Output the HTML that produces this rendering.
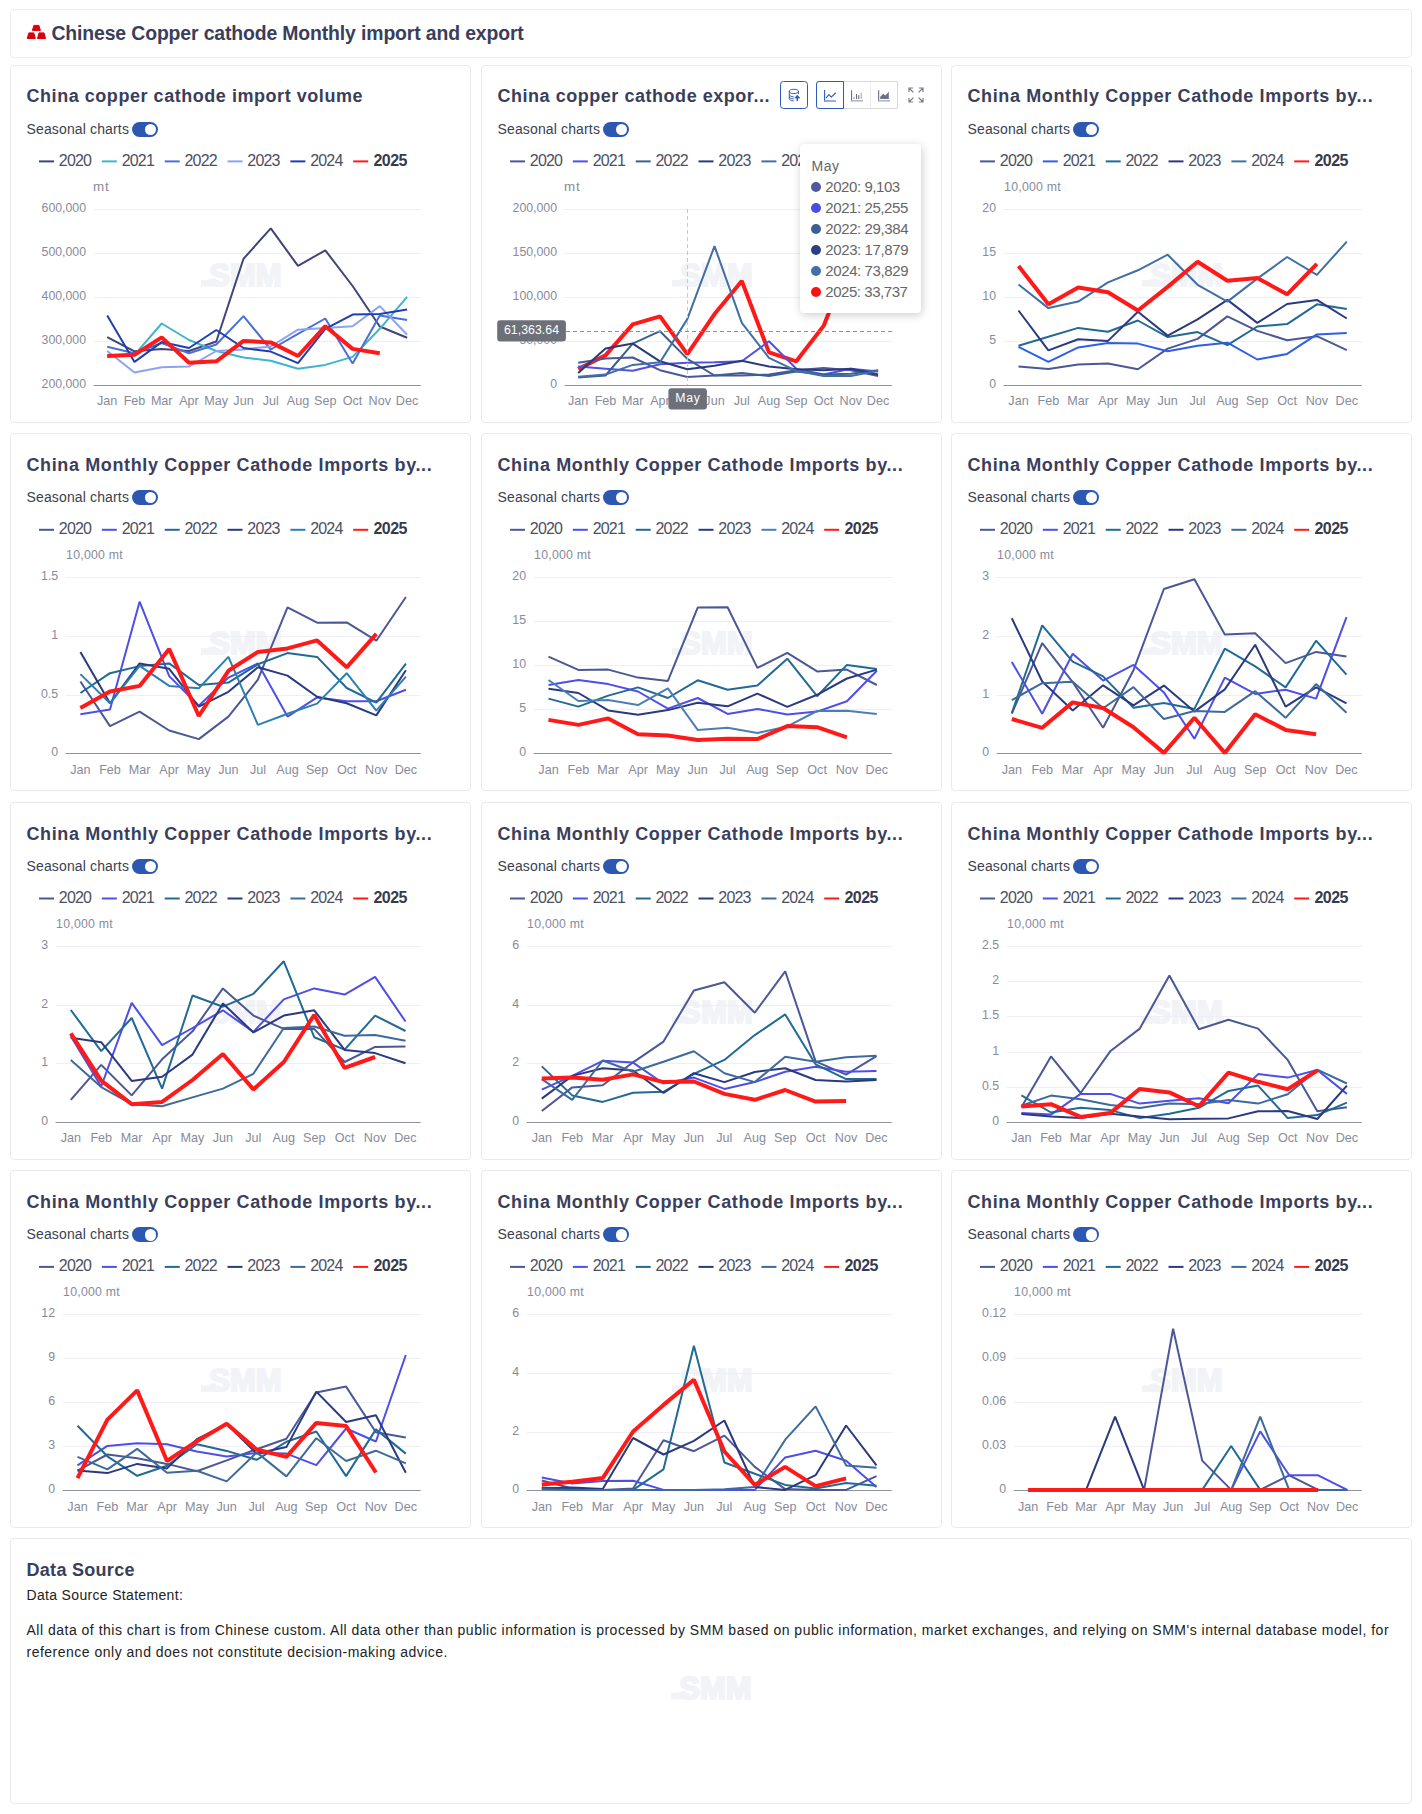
<!DOCTYPE html><html lang="en"><head><meta charset="utf-8"><title>Chinese Copper cathode Monthly import and export</title><style>
html,body{margin:0;padding:0;background:#fff}
body{width:1422px;height:1814px;position:relative;overflow:hidden;font-family:"Liberation Sans",sans-serif}
.card{position:absolute;box-sizing:border-box;border:1px solid #e9e9f6;border-radius:4px;background:#fff}
.t{position:absolute;white-space:pre;margin:0}
svg{position:absolute;left:0;top:0;overflow:visible}
.sw{position:absolute;width:26px;height:15px;border-radius:8px;background:#2d58b1}
.sw i{position:absolute;right:2px;top:1.8px;width:11.4px;height:11.4px;border-radius:50%;background:#fff}
</style></head><body>
<div class="card" style="left:10px;top:9px;width:1402px;height:49px;border-color:#ececf7"></div>
<svg width="1422" height="60" viewBox="0 0 1422 60"><g fill="#d9000f" stroke="#d9000f" stroke-width="1" stroke-linejoin="round"><path d="M33.9 25.4h5.0l1.5 5.0h-8.0z"/><path d="M28.8 32.9h5.0l1.5 5.6h-8.0z"/><path d="M39.0 32.9h5.0l1.5 5.6h-8.0z"/></g></svg>
<div class="t" style="left:51.50px;top:23.44px;font-size:19.4px;line-height:21.67px;color:#3a3e5b;font-weight:bold;letter-spacing:-0.129px;">Chinese Copper cathode Monthly import and export</div>
<div class="card" style="left:10px;top:65px;width:461px;height:358px"></div>
<div class="t" style="left:26.50px;top:86.46px;font-size:18px;line-height:20.11px;color:#3a3e5b;font-weight:bold;letter-spacing:0.544px;">China copper cathode import volume</div>
<div class="t" style="left:26.50px;top:121.63px;font-size:14px;line-height:15.64px;color:#3b3f50;letter-spacing:0.142px;">Seasonal charts</div>
<div class="sw" style="left:132.2px;top:122px"><i></i></div>
<div class="t" style="left:58.80px;top:151.82px;font-size:16px;line-height:17.87px;color:#4b5062;letter-spacing:-0.798px;">2020</div>
<div class="t" style="left:121.64px;top:151.82px;font-size:16px;line-height:17.87px;color:#4b5062;letter-spacing:-0.798px;">2021</div>
<div class="t" style="left:184.48px;top:151.82px;font-size:16px;line-height:17.87px;color:#4b5062;letter-spacing:-0.798px;">2022</div>
<div class="t" style="left:247.32px;top:151.82px;font-size:16px;line-height:17.87px;color:#4b5062;letter-spacing:-0.798px;">2023</div>
<div class="t" style="left:310.16px;top:151.82px;font-size:16px;line-height:17.87px;color:#4b5062;letter-spacing:-0.798px;">2024</div>
<div class="t" style="left:373.50px;top:151.82px;font-size:16px;line-height:17.87px;color:#353b4d;font-weight:bold;letter-spacing:-0.531px;">2025</div>
<div class="t" style="left:41.55px;top:377.97px;font-size:12.3px;line-height:13.74px;color:#878b9a;">200,000</div>
<div class="t" style="left:41.55px;top:333.97px;font-size:12.3px;line-height:13.74px;color:#878b9a;">300,000</div>
<div class="t" style="left:41.55px;top:289.97px;font-size:12.3px;line-height:13.74px;color:#878b9a;">400,000</div>
<div class="t" style="left:41.55px;top:245.97px;font-size:12.3px;line-height:13.74px;color:#878b9a;">500,000</div>
<div class="t" style="left:41.55px;top:201.97px;font-size:12.3px;line-height:13.74px;color:#878b9a;">600,000</div>
<div class="t" style="left:93.10px;top:179.87px;font-size:13.4px;line-height:14.97px;color:#878b9a;letter-spacing:0.725px;">mt</div>
<div class="t" style="left:97.07px;top:394.20px;font-size:12.6px;line-height:14.07px;color:#878b9a;">Jan</div>
<div class="t" style="left:123.64px;top:394.20px;font-size:12.6px;line-height:14.07px;color:#878b9a;">Feb</div>
<div class="t" style="left:150.89px;top:394.20px;font-size:12.6px;line-height:14.07px;color:#878b9a;">Mar</div>
<div class="t" style="left:179.20px;top:394.20px;font-size:12.6px;line-height:14.07px;color:#878b9a;">Apr</div>
<div class="t" style="left:204.36px;top:394.20px;font-size:12.6px;line-height:14.07px;color:#878b9a;">May</div>
<div class="t" style="left:233.36px;top:394.20px;font-size:12.6px;line-height:14.07px;color:#878b9a;">Jun</div>
<div class="t" style="left:262.72px;top:394.20px;font-size:12.6px;line-height:14.07px;color:#878b9a;">Jul</div>
<div class="t" style="left:286.83px;top:394.20px;font-size:12.6px;line-height:14.07px;color:#878b9a;">Aug</div>
<div class="t" style="left:314.08px;top:394.20px;font-size:12.6px;line-height:14.07px;color:#878b9a;">Sep</div>
<div class="t" style="left:342.76px;top:394.20px;font-size:12.6px;line-height:14.07px;color:#878b9a;">Oct</div>
<div class="t" style="left:368.61px;top:394.20px;font-size:12.6px;line-height:14.07px;color:#878b9a;">Nov</div>
<div class="t" style="left:395.87px;top:394.20px;font-size:12.6px;line-height:14.07px;color:#878b9a;">Dec</div>
<div class="t" style="left:209.30px;top:258.84px;font-size:31px;line-height:34.63px;color:#f2f3f6;font-weight:bold;-webkit-text-stroke:2.2px #f2f3f6;">SMM</div>
<div class="card" style="left:481px;top:65px;width:461px;height:358px"></div>
<div class="t" style="left:497.50px;top:86.46px;font-size:18px;line-height:20.11px;color:#3a3e5b;font-weight:bold;letter-spacing:0.533px;">China copper cathode expor...</div>
<div class="t" style="left:497.50px;top:121.63px;font-size:14px;line-height:15.64px;color:#3b3f50;letter-spacing:0.142px;">Seasonal charts</div>
<div class="sw" style="left:603.2px;top:122px"><i></i></div>
<div class="t" style="left:529.80px;top:151.82px;font-size:16px;line-height:17.87px;color:#4b5062;letter-spacing:-0.798px;">2020</div>
<div class="t" style="left:592.64px;top:151.82px;font-size:16px;line-height:17.87px;color:#4b5062;letter-spacing:-0.798px;">2021</div>
<div class="t" style="left:655.48px;top:151.82px;font-size:16px;line-height:17.87px;color:#4b5062;letter-spacing:-0.798px;">2022</div>
<div class="t" style="left:718.32px;top:151.82px;font-size:16px;line-height:17.87px;color:#4b5062;letter-spacing:-0.798px;">2023</div>
<div class="t" style="left:781.16px;top:151.82px;font-size:16px;line-height:17.87px;color:#4b5062;letter-spacing:-0.798px;">2024</div>
<div class="t" style="left:550.16px;top:377.97px;font-size:12.3px;line-height:13.74px;color:#878b9a;">0</div>
<div class="t" style="left:519.38px;top:333.97px;font-size:12.3px;line-height:13.74px;color:#878b9a;">50,000</div>
<div class="t" style="left:512.55px;top:289.97px;font-size:12.3px;line-height:13.74px;color:#878b9a;">100,000</div>
<div class="t" style="left:512.55px;top:245.97px;font-size:12.3px;line-height:13.74px;color:#878b9a;">150,000</div>
<div class="t" style="left:512.55px;top:201.97px;font-size:12.3px;line-height:13.74px;color:#878b9a;">200,000</div>
<div class="t" style="left:564.10px;top:179.87px;font-size:13.4px;line-height:14.97px;color:#878b9a;letter-spacing:0.725px;">mt</div>
<div class="t" style="left:568.07px;top:394.20px;font-size:12.6px;line-height:14.07px;color:#878b9a;">Jan</div>
<div class="t" style="left:594.64px;top:394.20px;font-size:12.6px;line-height:14.07px;color:#878b9a;">Feb</div>
<div class="t" style="left:621.89px;top:394.20px;font-size:12.6px;line-height:14.07px;color:#878b9a;">Mar</div>
<div class="t" style="left:650.20px;top:394.20px;font-size:12.6px;line-height:14.07px;color:#878b9a;">Apr</div>
<div class="t" style="left:675.36px;top:394.20px;font-size:12.6px;line-height:14.07px;color:#878b9a;">May</div>
<div class="t" style="left:704.36px;top:394.20px;font-size:12.6px;line-height:14.07px;color:#878b9a;">Jun</div>
<div class="t" style="left:733.72px;top:394.20px;font-size:12.6px;line-height:14.07px;color:#878b9a;">Jul</div>
<div class="t" style="left:757.83px;top:394.20px;font-size:12.6px;line-height:14.07px;color:#878b9a;">Aug</div>
<div class="t" style="left:785.08px;top:394.20px;font-size:12.6px;line-height:14.07px;color:#878b9a;">Sep</div>
<div class="t" style="left:813.76px;top:394.20px;font-size:12.6px;line-height:14.07px;color:#878b9a;">Oct</div>
<div class="t" style="left:839.61px;top:394.20px;font-size:12.6px;line-height:14.07px;color:#878b9a;">Nov</div>
<div class="t" style="left:866.87px;top:394.20px;font-size:12.6px;line-height:14.07px;color:#878b9a;">Dec</div>
<div class="t" style="left:680.30px;top:258.84px;font-size:31px;line-height:34.63px;color:#f2f3f6;font-weight:bold;-webkit-text-stroke:2.2px #f2f3f6;">SMM</div>
<div class="card" style="left:951px;top:65px;width:461px;height:358px"></div>
<div class="t" style="left:967.50px;top:86.46px;font-size:18px;line-height:20.11px;color:#3a3e5b;font-weight:bold;letter-spacing:0.623px;">China Monthly Copper Cathode Imports by...</div>
<div class="t" style="left:967.50px;top:121.63px;font-size:14px;line-height:15.64px;color:#3b3f50;letter-spacing:0.142px;">Seasonal charts</div>
<div class="sw" style="left:1073.2px;top:122px"><i></i></div>
<div class="t" style="left:999.80px;top:151.82px;font-size:16px;line-height:17.87px;color:#4b5062;letter-spacing:-0.798px;">2020</div>
<div class="t" style="left:1062.64px;top:151.82px;font-size:16px;line-height:17.87px;color:#4b5062;letter-spacing:-0.798px;">2021</div>
<div class="t" style="left:1125.48px;top:151.82px;font-size:16px;line-height:17.87px;color:#4b5062;letter-spacing:-0.798px;">2022</div>
<div class="t" style="left:1188.32px;top:151.82px;font-size:16px;line-height:17.87px;color:#4b5062;letter-spacing:-0.798px;">2023</div>
<div class="t" style="left:1251.16px;top:151.82px;font-size:16px;line-height:17.87px;color:#4b5062;letter-spacing:-0.798px;">2024</div>
<div class="t" style="left:1314.50px;top:151.82px;font-size:16px;line-height:17.87px;color:#353b4d;font-weight:bold;letter-spacing:-0.531px;">2025</div>
<div class="t" style="left:989.16px;top:377.97px;font-size:12.3px;line-height:13.74px;color:#878b9a;">0</div>
<div class="t" style="left:989.16px;top:333.97px;font-size:12.3px;line-height:13.74px;color:#878b9a;">5</div>
<div class="t" style="left:982.31px;top:289.97px;font-size:12.3px;line-height:13.74px;color:#878b9a;">10</div>
<div class="t" style="left:982.31px;top:245.97px;font-size:12.3px;line-height:13.74px;color:#878b9a;">15</div>
<div class="t" style="left:982.31px;top:201.97px;font-size:12.3px;line-height:13.74px;color:#878b9a;">20</div>
<div class="t" style="left:1004.10px;top:180.87px;font-size:12.3px;line-height:13.74px;color:#878b9a;letter-spacing:0.237px;">10,000 mt</div>
<div class="t" style="left:1008.36px;top:394.20px;font-size:12.6px;line-height:14.07px;color:#878b9a;">Jan</div>
<div class="t" style="left:1037.51px;top:394.20px;font-size:12.6px;line-height:14.07px;color:#878b9a;">Feb</div>
<div class="t" style="left:1067.35px;top:394.20px;font-size:12.6px;line-height:14.07px;color:#878b9a;">Mar</div>
<div class="t" style="left:1098.24px;top:394.20px;font-size:12.6px;line-height:14.07px;color:#878b9a;">Apr</div>
<div class="t" style="left:1125.99px;top:394.20px;font-size:12.6px;line-height:14.07px;color:#878b9a;">May</div>
<div class="t" style="left:1157.57px;top:394.20px;font-size:12.6px;line-height:14.07px;color:#878b9a;">Jun</div>
<div class="t" style="left:1189.52px;top:394.20px;font-size:12.6px;line-height:14.07px;color:#878b9a;">Jul</div>
<div class="t" style="left:1216.20px;top:394.20px;font-size:12.6px;line-height:14.07px;color:#878b9a;">Aug</div>
<div class="t" style="left:1246.04px;top:394.20px;font-size:12.6px;line-height:14.07px;color:#878b9a;">Sep</div>
<div class="t" style="left:1277.30px;top:394.20px;font-size:12.6px;line-height:14.07px;color:#878b9a;">Oct</div>
<div class="t" style="left:1305.73px;top:394.20px;font-size:12.6px;line-height:14.07px;color:#878b9a;">Nov</div>
<div class="t" style="left:1335.58px;top:394.20px;font-size:12.6px;line-height:14.07px;color:#878b9a;">Dec</div>
<div class="t" style="left:1150.30px;top:258.84px;font-size:31px;line-height:34.63px;color:#f2f3f6;font-weight:bold;-webkit-text-stroke:2.2px #f2f3f6;">SMM</div>
<div class="card" style="left:10px;top:433px;width:461px;height:358px"></div>
<div class="t" style="left:26.50px;top:454.76px;font-size:18px;line-height:20.11px;color:#3a3e5b;font-weight:bold;letter-spacing:0.623px;">China Monthly Copper Cathode Imports by...</div>
<div class="t" style="left:26.50px;top:489.93px;font-size:14px;line-height:15.64px;color:#3b3f50;letter-spacing:0.142px;">Seasonal charts</div>
<div class="sw" style="left:132.2px;top:490.3px"><i></i></div>
<div class="t" style="left:58.80px;top:520.12px;font-size:16px;line-height:17.87px;color:#4b5062;letter-spacing:-0.798px;">2020</div>
<div class="t" style="left:121.64px;top:520.12px;font-size:16px;line-height:17.87px;color:#4b5062;letter-spacing:-0.798px;">2021</div>
<div class="t" style="left:184.48px;top:520.12px;font-size:16px;line-height:17.87px;color:#4b5062;letter-spacing:-0.798px;">2022</div>
<div class="t" style="left:247.32px;top:520.12px;font-size:16px;line-height:17.87px;color:#4b5062;letter-spacing:-0.798px;">2023</div>
<div class="t" style="left:310.16px;top:520.12px;font-size:16px;line-height:17.87px;color:#4b5062;letter-spacing:-0.798px;">2024</div>
<div class="t" style="left:373.50px;top:520.12px;font-size:16px;line-height:17.87px;color:#353b4d;font-weight:bold;letter-spacing:-0.531px;">2025</div>
<div class="t" style="left:51.16px;top:746.27px;font-size:12.3px;line-height:13.74px;color:#878b9a;">0</div>
<div class="t" style="left:40.89px;top:687.60px;font-size:12.3px;line-height:13.74px;color:#878b9a;">0.5</div>
<div class="t" style="left:51.16px;top:628.94px;font-size:12.3px;line-height:13.74px;color:#878b9a;">1</div>
<div class="t" style="left:40.89px;top:570.27px;font-size:12.3px;line-height:13.74px;color:#878b9a;">1.5</div>
<div class="t" style="left:66.10px;top:549.17px;font-size:12.3px;line-height:13.74px;color:#878b9a;letter-spacing:0.237px;">10,000 mt</div>
<div class="t" style="left:70.24px;top:762.50px;font-size:12.6px;line-height:14.07px;color:#878b9a;">Jan</div>
<div class="t" style="left:99.14px;top:762.50px;font-size:12.6px;line-height:14.07px;color:#878b9a;">Feb</div>
<div class="t" style="left:128.73px;top:762.50px;font-size:12.6px;line-height:14.07px;color:#878b9a;">Mar</div>
<div class="t" style="left:159.37px;top:762.50px;font-size:12.6px;line-height:14.07px;color:#878b9a;">Apr</div>
<div class="t" style="left:186.86px;top:762.50px;font-size:12.6px;line-height:14.07px;color:#878b9a;">May</div>
<div class="t" style="left:218.20px;top:762.50px;font-size:12.6px;line-height:14.07px;color:#878b9a;">Jun</div>
<div class="t" style="left:249.89px;top:762.50px;font-size:12.6px;line-height:14.07px;color:#878b9a;">Jul</div>
<div class="t" style="left:276.33px;top:762.50px;font-size:12.6px;line-height:14.07px;color:#878b9a;">Aug</div>
<div class="t" style="left:305.92px;top:762.50px;font-size:12.6px;line-height:14.07px;color:#878b9a;">Sep</div>
<div class="t" style="left:336.92px;top:762.50px;font-size:12.6px;line-height:14.07px;color:#878b9a;">Oct</div>
<div class="t" style="left:365.11px;top:762.50px;font-size:12.6px;line-height:14.07px;color:#878b9a;">Nov</div>
<div class="t" style="left:394.70px;top:762.50px;font-size:12.6px;line-height:14.07px;color:#878b9a;">Dec</div>
<div class="t" style="left:209.30px;top:627.15px;font-size:31px;line-height:34.63px;color:#f2f3f6;font-weight:bold;-webkit-text-stroke:2.2px #f2f3f6;">SMM</div>
<div class="card" style="left:481px;top:433px;width:461px;height:358px"></div>
<div class="t" style="left:497.50px;top:454.76px;font-size:18px;line-height:20.11px;color:#3a3e5b;font-weight:bold;letter-spacing:0.623px;">China Monthly Copper Cathode Imports by...</div>
<div class="t" style="left:497.50px;top:489.93px;font-size:14px;line-height:15.64px;color:#3b3f50;letter-spacing:0.142px;">Seasonal charts</div>
<div class="sw" style="left:603.2px;top:490.3px"><i></i></div>
<div class="t" style="left:529.80px;top:520.12px;font-size:16px;line-height:17.87px;color:#4b5062;letter-spacing:-0.798px;">2020</div>
<div class="t" style="left:592.64px;top:520.12px;font-size:16px;line-height:17.87px;color:#4b5062;letter-spacing:-0.798px;">2021</div>
<div class="t" style="left:655.48px;top:520.12px;font-size:16px;line-height:17.87px;color:#4b5062;letter-spacing:-0.798px;">2022</div>
<div class="t" style="left:718.32px;top:520.12px;font-size:16px;line-height:17.87px;color:#4b5062;letter-spacing:-0.798px;">2023</div>
<div class="t" style="left:781.16px;top:520.12px;font-size:16px;line-height:17.87px;color:#4b5062;letter-spacing:-0.798px;">2024</div>
<div class="t" style="left:844.50px;top:520.12px;font-size:16px;line-height:17.87px;color:#353b4d;font-weight:bold;letter-spacing:-0.531px;">2025</div>
<div class="t" style="left:519.16px;top:746.27px;font-size:12.3px;line-height:13.74px;color:#878b9a;">0</div>
<div class="t" style="left:519.16px;top:702.27px;font-size:12.3px;line-height:13.74px;color:#878b9a;">5</div>
<div class="t" style="left:512.31px;top:658.27px;font-size:12.3px;line-height:13.74px;color:#878b9a;">10</div>
<div class="t" style="left:512.31px;top:614.27px;font-size:12.3px;line-height:13.74px;color:#878b9a;">15</div>
<div class="t" style="left:512.31px;top:570.27px;font-size:12.3px;line-height:13.74px;color:#878b9a;">20</div>
<div class="t" style="left:534.10px;top:549.17px;font-size:12.3px;line-height:13.74px;color:#878b9a;letter-spacing:0.237px;">10,000 mt</div>
<div class="t" style="left:538.36px;top:762.50px;font-size:12.6px;line-height:14.07px;color:#878b9a;">Jan</div>
<div class="t" style="left:567.51px;top:762.50px;font-size:12.6px;line-height:14.07px;color:#878b9a;">Feb</div>
<div class="t" style="left:597.35px;top:762.50px;font-size:12.6px;line-height:14.07px;color:#878b9a;">Mar</div>
<div class="t" style="left:628.24px;top:762.50px;font-size:12.6px;line-height:14.07px;color:#878b9a;">Apr</div>
<div class="t" style="left:655.99px;top:762.50px;font-size:12.6px;line-height:14.07px;color:#878b9a;">May</div>
<div class="t" style="left:687.57px;top:762.50px;font-size:12.6px;line-height:14.07px;color:#878b9a;">Jun</div>
<div class="t" style="left:719.52px;top:762.50px;font-size:12.6px;line-height:14.07px;color:#878b9a;">Jul</div>
<div class="t" style="left:746.20px;top:762.50px;font-size:12.6px;line-height:14.07px;color:#878b9a;">Aug</div>
<div class="t" style="left:776.04px;top:762.50px;font-size:12.6px;line-height:14.07px;color:#878b9a;">Sep</div>
<div class="t" style="left:807.30px;top:762.50px;font-size:12.6px;line-height:14.07px;color:#878b9a;">Oct</div>
<div class="t" style="left:835.73px;top:762.50px;font-size:12.6px;line-height:14.07px;color:#878b9a;">Nov</div>
<div class="t" style="left:865.58px;top:762.50px;font-size:12.6px;line-height:14.07px;color:#878b9a;">Dec</div>
<div class="t" style="left:680.30px;top:627.15px;font-size:31px;line-height:34.63px;color:#f2f3f6;font-weight:bold;-webkit-text-stroke:2.2px #f2f3f6;">SMM</div>
<div class="card" style="left:951px;top:433px;width:461px;height:358px"></div>
<div class="t" style="left:967.50px;top:454.76px;font-size:18px;line-height:20.11px;color:#3a3e5b;font-weight:bold;letter-spacing:0.623px;">China Monthly Copper Cathode Imports by...</div>
<div class="t" style="left:967.50px;top:489.93px;font-size:14px;line-height:15.64px;color:#3b3f50;letter-spacing:0.142px;">Seasonal charts</div>
<div class="sw" style="left:1073.2px;top:490.3px"><i></i></div>
<div class="t" style="left:999.80px;top:520.12px;font-size:16px;line-height:17.87px;color:#4b5062;letter-spacing:-0.798px;">2020</div>
<div class="t" style="left:1062.64px;top:520.12px;font-size:16px;line-height:17.87px;color:#4b5062;letter-spacing:-0.798px;">2021</div>
<div class="t" style="left:1125.48px;top:520.12px;font-size:16px;line-height:17.87px;color:#4b5062;letter-spacing:-0.798px;">2022</div>
<div class="t" style="left:1188.32px;top:520.12px;font-size:16px;line-height:17.87px;color:#4b5062;letter-spacing:-0.798px;">2023</div>
<div class="t" style="left:1251.16px;top:520.12px;font-size:16px;line-height:17.87px;color:#4b5062;letter-spacing:-0.798px;">2024</div>
<div class="t" style="left:1314.50px;top:520.12px;font-size:16px;line-height:17.87px;color:#353b4d;font-weight:bold;letter-spacing:-0.531px;">2025</div>
<div class="t" style="left:982.16px;top:746.27px;font-size:12.3px;line-height:13.74px;color:#878b9a;">0</div>
<div class="t" style="left:982.16px;top:687.60px;font-size:12.3px;line-height:13.74px;color:#878b9a;">1</div>
<div class="t" style="left:982.16px;top:628.94px;font-size:12.3px;line-height:13.74px;color:#878b9a;">2</div>
<div class="t" style="left:982.16px;top:570.27px;font-size:12.3px;line-height:13.74px;color:#878b9a;">3</div>
<div class="t" style="left:997.10px;top:549.17px;font-size:12.3px;line-height:13.74px;color:#878b9a;letter-spacing:0.237px;">10,000 mt</div>
<div class="t" style="left:1001.66px;top:762.50px;font-size:12.6px;line-height:14.07px;color:#878b9a;">Jan</div>
<div class="t" style="left:1031.39px;top:762.50px;font-size:12.6px;line-height:14.07px;color:#878b9a;">Feb</div>
<div class="t" style="left:1061.81px;top:762.50px;font-size:12.6px;line-height:14.07px;color:#878b9a;">Mar</div>
<div class="t" style="left:1093.28px;top:762.50px;font-size:12.6px;line-height:14.07px;color:#878b9a;">Apr</div>
<div class="t" style="left:1121.61px;top:762.50px;font-size:12.6px;line-height:14.07px;color:#878b9a;">May</div>
<div class="t" style="left:1153.78px;top:762.50px;font-size:12.6px;line-height:14.07px;color:#878b9a;">Jun</div>
<div class="t" style="left:1186.31px;top:762.50px;font-size:12.6px;line-height:14.07px;color:#878b9a;">Jul</div>
<div class="t" style="left:1213.58px;top:762.50px;font-size:12.6px;line-height:14.07px;color:#878b9a;">Aug</div>
<div class="t" style="left:1244.00px;top:762.50px;font-size:12.6px;line-height:14.07px;color:#878b9a;">Sep</div>
<div class="t" style="left:1275.84px;top:762.50px;font-size:12.6px;line-height:14.07px;color:#878b9a;">Oct</div>
<div class="t" style="left:1304.86px;top:762.50px;font-size:12.6px;line-height:14.07px;color:#878b9a;">Nov</div>
<div class="t" style="left:1335.28px;top:762.50px;font-size:12.6px;line-height:14.07px;color:#878b9a;">Dec</div>
<div class="t" style="left:1150.30px;top:627.15px;font-size:31px;line-height:34.63px;color:#f2f3f6;font-weight:bold;-webkit-text-stroke:2.2px #f2f3f6;">SMM</div>
<div class="card" style="left:10px;top:802px;width:461px;height:358px"></div>
<div class="t" style="left:26.50px;top:823.56px;font-size:18px;line-height:20.11px;color:#3a3e5b;font-weight:bold;letter-spacing:0.623px;">China Monthly Copper Cathode Imports by...</div>
<div class="t" style="left:26.50px;top:858.73px;font-size:14px;line-height:15.64px;color:#3b3f50;letter-spacing:0.142px;">Seasonal charts</div>
<div class="sw" style="left:132.2px;top:859.1px"><i></i></div>
<div class="t" style="left:58.80px;top:888.92px;font-size:16px;line-height:17.87px;color:#4b5062;letter-spacing:-0.798px;">2020</div>
<div class="t" style="left:121.64px;top:888.92px;font-size:16px;line-height:17.87px;color:#4b5062;letter-spacing:-0.798px;">2021</div>
<div class="t" style="left:184.48px;top:888.92px;font-size:16px;line-height:17.87px;color:#4b5062;letter-spacing:-0.798px;">2022</div>
<div class="t" style="left:247.32px;top:888.92px;font-size:16px;line-height:17.87px;color:#4b5062;letter-spacing:-0.798px;">2023</div>
<div class="t" style="left:310.16px;top:888.92px;font-size:16px;line-height:17.87px;color:#4b5062;letter-spacing:-0.798px;">2024</div>
<div class="t" style="left:373.50px;top:888.92px;font-size:16px;line-height:17.87px;color:#353b4d;font-weight:bold;letter-spacing:-0.531px;">2025</div>
<div class="t" style="left:41.16px;top:1115.07px;font-size:12.3px;line-height:13.74px;color:#878b9a;">0</div>
<div class="t" style="left:41.16px;top:1056.40px;font-size:12.3px;line-height:13.74px;color:#878b9a;">1</div>
<div class="t" style="left:41.16px;top:997.74px;font-size:12.3px;line-height:13.74px;color:#878b9a;">2</div>
<div class="t" style="left:41.16px;top:939.07px;font-size:12.3px;line-height:13.74px;color:#878b9a;">3</div>
<div class="t" style="left:56.10px;top:917.97px;font-size:12.3px;line-height:13.74px;color:#878b9a;letter-spacing:0.237px;">10,000 mt</div>
<div class="t" style="left:60.66px;top:1131.30px;font-size:12.6px;line-height:14.07px;color:#878b9a;">Jan</div>
<div class="t" style="left:90.39px;top:1131.30px;font-size:12.6px;line-height:14.07px;color:#878b9a;">Feb</div>
<div class="t" style="left:120.81px;top:1131.30px;font-size:12.6px;line-height:14.07px;color:#878b9a;">Mar</div>
<div class="t" style="left:152.28px;top:1131.30px;font-size:12.6px;line-height:14.07px;color:#878b9a;">Apr</div>
<div class="t" style="left:180.61px;top:1131.30px;font-size:12.6px;line-height:14.07px;color:#878b9a;">May</div>
<div class="t" style="left:212.78px;top:1131.30px;font-size:12.6px;line-height:14.07px;color:#878b9a;">Jun</div>
<div class="t" style="left:245.31px;top:1131.30px;font-size:12.6px;line-height:14.07px;color:#878b9a;">Jul</div>
<div class="t" style="left:272.58px;top:1131.30px;font-size:12.6px;line-height:14.07px;color:#878b9a;">Aug</div>
<div class="t" style="left:303.00px;top:1131.30px;font-size:12.6px;line-height:14.07px;color:#878b9a;">Sep</div>
<div class="t" style="left:334.84px;top:1131.30px;font-size:12.6px;line-height:14.07px;color:#878b9a;">Oct</div>
<div class="t" style="left:363.86px;top:1131.30px;font-size:12.6px;line-height:14.07px;color:#878b9a;">Nov</div>
<div class="t" style="left:394.28px;top:1131.30px;font-size:12.6px;line-height:14.07px;color:#878b9a;">Dec</div>
<div class="t" style="left:209.30px;top:995.95px;font-size:31px;line-height:34.63px;color:#f2f3f6;font-weight:bold;-webkit-text-stroke:2.2px #f2f3f6;">SMM</div>
<div class="card" style="left:481px;top:802px;width:461px;height:358px"></div>
<div class="t" style="left:497.50px;top:823.56px;font-size:18px;line-height:20.11px;color:#3a3e5b;font-weight:bold;letter-spacing:0.623px;">China Monthly Copper Cathode Imports by...</div>
<div class="t" style="left:497.50px;top:858.73px;font-size:14px;line-height:15.64px;color:#3b3f50;letter-spacing:0.142px;">Seasonal charts</div>
<div class="sw" style="left:603.2px;top:859.1px"><i></i></div>
<div class="t" style="left:529.80px;top:888.92px;font-size:16px;line-height:17.87px;color:#4b5062;letter-spacing:-0.798px;">2020</div>
<div class="t" style="left:592.64px;top:888.92px;font-size:16px;line-height:17.87px;color:#4b5062;letter-spacing:-0.798px;">2021</div>
<div class="t" style="left:655.48px;top:888.92px;font-size:16px;line-height:17.87px;color:#4b5062;letter-spacing:-0.798px;">2022</div>
<div class="t" style="left:718.32px;top:888.92px;font-size:16px;line-height:17.87px;color:#4b5062;letter-spacing:-0.798px;">2023</div>
<div class="t" style="left:781.16px;top:888.92px;font-size:16px;line-height:17.87px;color:#4b5062;letter-spacing:-0.798px;">2024</div>
<div class="t" style="left:844.50px;top:888.92px;font-size:16px;line-height:17.87px;color:#353b4d;font-weight:bold;letter-spacing:-0.531px;">2025</div>
<div class="t" style="left:512.16px;top:1115.07px;font-size:12.3px;line-height:13.74px;color:#878b9a;">0</div>
<div class="t" style="left:512.16px;top:1056.40px;font-size:12.3px;line-height:13.74px;color:#878b9a;">2</div>
<div class="t" style="left:512.16px;top:997.74px;font-size:12.3px;line-height:13.74px;color:#878b9a;">4</div>
<div class="t" style="left:512.16px;top:939.07px;font-size:12.3px;line-height:13.74px;color:#878b9a;">6</div>
<div class="t" style="left:527.10px;top:917.97px;font-size:12.3px;line-height:13.74px;color:#878b9a;letter-spacing:0.237px;">10,000 mt</div>
<div class="t" style="left:531.66px;top:1131.30px;font-size:12.6px;line-height:14.07px;color:#878b9a;">Jan</div>
<div class="t" style="left:561.39px;top:1131.30px;font-size:12.6px;line-height:14.07px;color:#878b9a;">Feb</div>
<div class="t" style="left:591.81px;top:1131.30px;font-size:12.6px;line-height:14.07px;color:#878b9a;">Mar</div>
<div class="t" style="left:623.28px;top:1131.30px;font-size:12.6px;line-height:14.07px;color:#878b9a;">Apr</div>
<div class="t" style="left:651.61px;top:1131.30px;font-size:12.6px;line-height:14.07px;color:#878b9a;">May</div>
<div class="t" style="left:683.78px;top:1131.30px;font-size:12.6px;line-height:14.07px;color:#878b9a;">Jun</div>
<div class="t" style="left:716.31px;top:1131.30px;font-size:12.6px;line-height:14.07px;color:#878b9a;">Jul</div>
<div class="t" style="left:743.58px;top:1131.30px;font-size:12.6px;line-height:14.07px;color:#878b9a;">Aug</div>
<div class="t" style="left:774.00px;top:1131.30px;font-size:12.6px;line-height:14.07px;color:#878b9a;">Sep</div>
<div class="t" style="left:805.84px;top:1131.30px;font-size:12.6px;line-height:14.07px;color:#878b9a;">Oct</div>
<div class="t" style="left:834.86px;top:1131.30px;font-size:12.6px;line-height:14.07px;color:#878b9a;">Nov</div>
<div class="t" style="left:865.28px;top:1131.30px;font-size:12.6px;line-height:14.07px;color:#878b9a;">Dec</div>
<div class="t" style="left:680.30px;top:995.95px;font-size:31px;line-height:34.63px;color:#f2f3f6;font-weight:bold;-webkit-text-stroke:2.2px #f2f3f6;">SMM</div>
<div class="card" style="left:951px;top:802px;width:461px;height:358px"></div>
<div class="t" style="left:967.50px;top:823.56px;font-size:18px;line-height:20.11px;color:#3a3e5b;font-weight:bold;letter-spacing:0.623px;">China Monthly Copper Cathode Imports by...</div>
<div class="t" style="left:967.50px;top:858.73px;font-size:14px;line-height:15.64px;color:#3b3f50;letter-spacing:0.142px;">Seasonal charts</div>
<div class="sw" style="left:1073.2px;top:859.1px"><i></i></div>
<div class="t" style="left:999.80px;top:888.92px;font-size:16px;line-height:17.87px;color:#4b5062;letter-spacing:-0.798px;">2020</div>
<div class="t" style="left:1062.64px;top:888.92px;font-size:16px;line-height:17.87px;color:#4b5062;letter-spacing:-0.798px;">2021</div>
<div class="t" style="left:1125.48px;top:888.92px;font-size:16px;line-height:17.87px;color:#4b5062;letter-spacing:-0.798px;">2022</div>
<div class="t" style="left:1188.32px;top:888.92px;font-size:16px;line-height:17.87px;color:#4b5062;letter-spacing:-0.798px;">2023</div>
<div class="t" style="left:1251.16px;top:888.92px;font-size:16px;line-height:17.87px;color:#4b5062;letter-spacing:-0.798px;">2024</div>
<div class="t" style="left:1314.50px;top:888.92px;font-size:16px;line-height:17.87px;color:#353b4d;font-weight:bold;letter-spacing:-0.531px;">2025</div>
<div class="t" style="left:992.16px;top:1115.07px;font-size:12.3px;line-height:13.74px;color:#878b9a;">0</div>
<div class="t" style="left:981.89px;top:1079.87px;font-size:12.3px;line-height:13.74px;color:#878b9a;">0.5</div>
<div class="t" style="left:992.16px;top:1044.67px;font-size:12.3px;line-height:13.74px;color:#878b9a;">1</div>
<div class="t" style="left:981.89px;top:1009.47px;font-size:12.3px;line-height:13.74px;color:#878b9a;">1.5</div>
<div class="t" style="left:992.16px;top:974.27px;font-size:12.3px;line-height:13.74px;color:#878b9a;">2</div>
<div class="t" style="left:981.89px;top:939.07px;font-size:12.3px;line-height:13.74px;color:#878b9a;">2.5</div>
<div class="t" style="left:1007.10px;top:917.97px;font-size:12.3px;line-height:13.74px;color:#878b9a;letter-spacing:0.237px;">10,000 mt</div>
<div class="t" style="left:1011.24px;top:1131.30px;font-size:12.6px;line-height:14.07px;color:#878b9a;">Jan</div>
<div class="t" style="left:1040.14px;top:1131.30px;font-size:12.6px;line-height:14.07px;color:#878b9a;">Feb</div>
<div class="t" style="left:1069.73px;top:1131.30px;font-size:12.6px;line-height:14.07px;color:#878b9a;">Mar</div>
<div class="t" style="left:1100.37px;top:1131.30px;font-size:12.6px;line-height:14.07px;color:#878b9a;">Apr</div>
<div class="t" style="left:1127.86px;top:1131.30px;font-size:12.6px;line-height:14.07px;color:#878b9a;">May</div>
<div class="t" style="left:1159.20px;top:1131.30px;font-size:12.6px;line-height:14.07px;color:#878b9a;">Jun</div>
<div class="t" style="left:1190.89px;top:1131.30px;font-size:12.6px;line-height:14.07px;color:#878b9a;">Jul</div>
<div class="t" style="left:1217.33px;top:1131.30px;font-size:12.6px;line-height:14.07px;color:#878b9a;">Aug</div>
<div class="t" style="left:1246.92px;top:1131.30px;font-size:12.6px;line-height:14.07px;color:#878b9a;">Sep</div>
<div class="t" style="left:1277.92px;top:1131.30px;font-size:12.6px;line-height:14.07px;color:#878b9a;">Oct</div>
<div class="t" style="left:1306.11px;top:1131.30px;font-size:12.6px;line-height:14.07px;color:#878b9a;">Nov</div>
<div class="t" style="left:1335.70px;top:1131.30px;font-size:12.6px;line-height:14.07px;color:#878b9a;">Dec</div>
<div class="t" style="left:1150.30px;top:995.95px;font-size:31px;line-height:34.63px;color:#f2f3f6;font-weight:bold;-webkit-text-stroke:2.2px #f2f3f6;">SMM</div>
<div class="card" style="left:10px;top:1170px;width:461px;height:358px"></div>
<div class="t" style="left:26.50px;top:1191.86px;font-size:18px;line-height:20.11px;color:#3a3e5b;font-weight:bold;letter-spacing:0.623px;">China Monthly Copper Cathode Imports by...</div>
<div class="t" style="left:26.50px;top:1227.03px;font-size:14px;line-height:15.64px;color:#3b3f50;letter-spacing:0.142px;">Seasonal charts</div>
<div class="sw" style="left:132.2px;top:1227.4px"><i></i></div>
<div class="t" style="left:58.80px;top:1257.22px;font-size:16px;line-height:17.87px;color:#4b5062;letter-spacing:-0.798px;">2020</div>
<div class="t" style="left:121.64px;top:1257.22px;font-size:16px;line-height:17.87px;color:#4b5062;letter-spacing:-0.798px;">2021</div>
<div class="t" style="left:184.48px;top:1257.22px;font-size:16px;line-height:17.87px;color:#4b5062;letter-spacing:-0.798px;">2022</div>
<div class="t" style="left:247.32px;top:1257.22px;font-size:16px;line-height:17.87px;color:#4b5062;letter-spacing:-0.798px;">2023</div>
<div class="t" style="left:310.16px;top:1257.22px;font-size:16px;line-height:17.87px;color:#4b5062;letter-spacing:-0.798px;">2024</div>
<div class="t" style="left:373.50px;top:1257.22px;font-size:16px;line-height:17.87px;color:#353b4d;font-weight:bold;letter-spacing:-0.531px;">2025</div>
<div class="t" style="left:48.16px;top:1483.37px;font-size:12.3px;line-height:13.74px;color:#878b9a;">0</div>
<div class="t" style="left:48.16px;top:1439.37px;font-size:12.3px;line-height:13.74px;color:#878b9a;">3</div>
<div class="t" style="left:48.16px;top:1395.37px;font-size:12.3px;line-height:13.74px;color:#878b9a;">6</div>
<div class="t" style="left:48.16px;top:1351.37px;font-size:12.3px;line-height:13.74px;color:#878b9a;">9</div>
<div class="t" style="left:41.31px;top:1307.37px;font-size:12.3px;line-height:13.74px;color:#878b9a;">12</div>
<div class="t" style="left:63.10px;top:1286.27px;font-size:12.3px;line-height:13.74px;color:#878b9a;letter-spacing:0.237px;">10,000 mt</div>
<div class="t" style="left:67.36px;top:1499.60px;font-size:12.6px;line-height:14.07px;color:#878b9a;">Jan</div>
<div class="t" style="left:96.51px;top:1499.60px;font-size:12.6px;line-height:14.07px;color:#878b9a;">Feb</div>
<div class="t" style="left:126.35px;top:1499.60px;font-size:12.6px;line-height:14.07px;color:#878b9a;">Mar</div>
<div class="t" style="left:157.24px;top:1499.60px;font-size:12.6px;line-height:14.07px;color:#878b9a;">Apr</div>
<div class="t" style="left:184.99px;top:1499.60px;font-size:12.6px;line-height:14.07px;color:#878b9a;">May</div>
<div class="t" style="left:216.57px;top:1499.60px;font-size:12.6px;line-height:14.07px;color:#878b9a;">Jun</div>
<div class="t" style="left:248.52px;top:1499.60px;font-size:12.6px;line-height:14.07px;color:#878b9a;">Jul</div>
<div class="t" style="left:275.20px;top:1499.60px;font-size:12.6px;line-height:14.07px;color:#878b9a;">Aug</div>
<div class="t" style="left:305.04px;top:1499.60px;font-size:12.6px;line-height:14.07px;color:#878b9a;">Sep</div>
<div class="t" style="left:336.30px;top:1499.60px;font-size:12.6px;line-height:14.07px;color:#878b9a;">Oct</div>
<div class="t" style="left:364.73px;top:1499.60px;font-size:12.6px;line-height:14.07px;color:#878b9a;">Nov</div>
<div class="t" style="left:394.58px;top:1499.60px;font-size:12.6px;line-height:14.07px;color:#878b9a;">Dec</div>
<div class="t" style="left:209.30px;top:1364.25px;font-size:31px;line-height:34.63px;color:#f2f3f6;font-weight:bold;-webkit-text-stroke:2.2px #f2f3f6;">SMM</div>
<div class="card" style="left:481px;top:1170px;width:461px;height:358px"></div>
<div class="t" style="left:497.50px;top:1191.86px;font-size:18px;line-height:20.11px;color:#3a3e5b;font-weight:bold;letter-spacing:0.623px;">China Monthly Copper Cathode Imports by...</div>
<div class="t" style="left:497.50px;top:1227.03px;font-size:14px;line-height:15.64px;color:#3b3f50;letter-spacing:0.142px;">Seasonal charts</div>
<div class="sw" style="left:603.2px;top:1227.4px"><i></i></div>
<div class="t" style="left:529.80px;top:1257.22px;font-size:16px;line-height:17.87px;color:#4b5062;letter-spacing:-0.798px;">2020</div>
<div class="t" style="left:592.64px;top:1257.22px;font-size:16px;line-height:17.87px;color:#4b5062;letter-spacing:-0.798px;">2021</div>
<div class="t" style="left:655.48px;top:1257.22px;font-size:16px;line-height:17.87px;color:#4b5062;letter-spacing:-0.798px;">2022</div>
<div class="t" style="left:718.32px;top:1257.22px;font-size:16px;line-height:17.87px;color:#4b5062;letter-spacing:-0.798px;">2023</div>
<div class="t" style="left:781.16px;top:1257.22px;font-size:16px;line-height:17.87px;color:#4b5062;letter-spacing:-0.798px;">2024</div>
<div class="t" style="left:844.50px;top:1257.22px;font-size:16px;line-height:17.87px;color:#353b4d;font-weight:bold;letter-spacing:-0.531px;">2025</div>
<div class="t" style="left:512.16px;top:1483.37px;font-size:12.3px;line-height:13.74px;color:#878b9a;">0</div>
<div class="t" style="left:512.16px;top:1424.70px;font-size:12.3px;line-height:13.74px;color:#878b9a;">2</div>
<div class="t" style="left:512.16px;top:1366.04px;font-size:12.3px;line-height:13.74px;color:#878b9a;">4</div>
<div class="t" style="left:512.16px;top:1307.37px;font-size:12.3px;line-height:13.74px;color:#878b9a;">6</div>
<div class="t" style="left:527.10px;top:1286.27px;font-size:12.3px;line-height:13.74px;color:#878b9a;letter-spacing:0.237px;">10,000 mt</div>
<div class="t" style="left:531.66px;top:1499.60px;font-size:12.6px;line-height:14.07px;color:#878b9a;">Jan</div>
<div class="t" style="left:561.39px;top:1499.60px;font-size:12.6px;line-height:14.07px;color:#878b9a;">Feb</div>
<div class="t" style="left:591.81px;top:1499.60px;font-size:12.6px;line-height:14.07px;color:#878b9a;">Mar</div>
<div class="t" style="left:623.28px;top:1499.60px;font-size:12.6px;line-height:14.07px;color:#878b9a;">Apr</div>
<div class="t" style="left:651.61px;top:1499.60px;font-size:12.6px;line-height:14.07px;color:#878b9a;">May</div>
<div class="t" style="left:683.78px;top:1499.60px;font-size:12.6px;line-height:14.07px;color:#878b9a;">Jun</div>
<div class="t" style="left:716.31px;top:1499.60px;font-size:12.6px;line-height:14.07px;color:#878b9a;">Jul</div>
<div class="t" style="left:743.58px;top:1499.60px;font-size:12.6px;line-height:14.07px;color:#878b9a;">Aug</div>
<div class="t" style="left:774.00px;top:1499.60px;font-size:12.6px;line-height:14.07px;color:#878b9a;">Sep</div>
<div class="t" style="left:805.84px;top:1499.60px;font-size:12.6px;line-height:14.07px;color:#878b9a;">Oct</div>
<div class="t" style="left:834.86px;top:1499.60px;font-size:12.6px;line-height:14.07px;color:#878b9a;">Nov</div>
<div class="t" style="left:865.28px;top:1499.60px;font-size:12.6px;line-height:14.07px;color:#878b9a;">Dec</div>
<div class="t" style="left:680.30px;top:1364.25px;font-size:31px;line-height:34.63px;color:#f2f3f6;font-weight:bold;-webkit-text-stroke:2.2px #f2f3f6;">SMM</div>
<div class="card" style="left:951px;top:1170px;width:461px;height:358px"></div>
<div class="t" style="left:967.50px;top:1191.86px;font-size:18px;line-height:20.11px;color:#3a3e5b;font-weight:bold;letter-spacing:0.623px;">China Monthly Copper Cathode Imports by...</div>
<div class="t" style="left:967.50px;top:1227.03px;font-size:14px;line-height:15.64px;color:#3b3f50;letter-spacing:0.142px;">Seasonal charts</div>
<div class="sw" style="left:1073.2px;top:1227.4px"><i></i></div>
<div class="t" style="left:999.80px;top:1257.22px;font-size:16px;line-height:17.87px;color:#4b5062;letter-spacing:-0.798px;">2020</div>
<div class="t" style="left:1062.64px;top:1257.22px;font-size:16px;line-height:17.87px;color:#4b5062;letter-spacing:-0.798px;">2021</div>
<div class="t" style="left:1125.48px;top:1257.22px;font-size:16px;line-height:17.87px;color:#4b5062;letter-spacing:-0.798px;">2022</div>
<div class="t" style="left:1188.32px;top:1257.22px;font-size:16px;line-height:17.87px;color:#4b5062;letter-spacing:-0.798px;">2023</div>
<div class="t" style="left:1251.16px;top:1257.22px;font-size:16px;line-height:17.87px;color:#4b5062;letter-spacing:-0.798px;">2024</div>
<div class="t" style="left:1314.50px;top:1257.22px;font-size:16px;line-height:17.87px;color:#353b4d;font-weight:bold;letter-spacing:-0.531px;">2025</div>
<div class="t" style="left:999.16px;top:1483.37px;font-size:12.3px;line-height:13.74px;color:#878b9a;">0</div>
<div class="t" style="left:982.06px;top:1439.37px;font-size:12.3px;line-height:13.74px;color:#878b9a;">0.03</div>
<div class="t" style="left:982.06px;top:1395.37px;font-size:12.3px;line-height:13.74px;color:#878b9a;">0.06</div>
<div class="t" style="left:982.06px;top:1351.37px;font-size:12.3px;line-height:13.74px;color:#878b9a;">0.09</div>
<div class="t" style="left:982.06px;top:1307.37px;font-size:12.3px;line-height:13.74px;color:#878b9a;">0.12</div>
<div class="t" style="left:1014.10px;top:1286.27px;font-size:12.3px;line-height:13.74px;color:#878b9a;letter-spacing:0.237px;">10,000 mt</div>
<div class="t" style="left:1017.95px;top:1499.60px;font-size:12.6px;line-height:14.07px;color:#878b9a;">Jan</div>
<div class="t" style="left:1046.26px;top:1499.60px;font-size:12.6px;line-height:14.07px;color:#878b9a;">Feb</div>
<div class="t" style="left:1075.27px;top:1499.60px;font-size:12.6px;line-height:14.07px;color:#878b9a;">Mar</div>
<div class="t" style="left:1105.32px;top:1499.60px;font-size:12.6px;line-height:14.07px;color:#878b9a;">Apr</div>
<div class="t" style="left:1132.24px;top:1499.60px;font-size:12.6px;line-height:14.07px;color:#878b9a;">May</div>
<div class="t" style="left:1162.99px;top:1499.60px;font-size:12.6px;line-height:14.07px;color:#878b9a;">Jun</div>
<div class="t" style="left:1194.10px;top:1499.60px;font-size:12.6px;line-height:14.07px;color:#878b9a;">Jul</div>
<div class="t" style="left:1219.95px;top:1499.60px;font-size:12.6px;line-height:14.07px;color:#878b9a;">Aug</div>
<div class="t" style="left:1248.96px;top:1499.60px;font-size:12.6px;line-height:14.07px;color:#878b9a;">Sep</div>
<div class="t" style="left:1279.38px;top:1499.60px;font-size:12.6px;line-height:14.07px;color:#878b9a;">Oct</div>
<div class="t" style="left:1306.98px;top:1499.60px;font-size:12.6px;line-height:14.07px;color:#878b9a;">Nov</div>
<div class="t" style="left:1335.99px;top:1499.60px;font-size:12.6px;line-height:14.07px;color:#878b9a;">Dec</div>
<div class="t" style="left:1150.30px;top:1364.25px;font-size:31px;line-height:34.63px;color:#f2f3f6;font-weight:bold;-webkit-text-stroke:2.2px #f2f3f6;">SMM</div>
<div class="card" style="left:10px;top:1538px;width:1402px;height:266px"></div>
<div class="t" style="left:26.50px;top:1559.81px;font-size:18px;line-height:20.11px;color:#3a3e5b;font-weight:bold;letter-spacing:0.295px;">Data Source</div>
<div class="t" style="left:26.50px;top:1587.53px;font-size:14px;line-height:15.64px;color:#222;letter-spacing:0.328px;">Data Source Statement:</div>
<div class="t" style="left:26.50px;top:1623.33px;font-size:14px;line-height:15.64px;color:#222;letter-spacing:0.499px;">All data of this chart is from Chinese custom. All data other than public information is processed by SMM based on public information, market exchanges, and relying on SMM's internal database model, for</div>
<div class="t" style="left:26.50px;top:1645.33px;font-size:14px;line-height:15.64px;color:#222;letter-spacing:0.497px;">reference only and does not constitute decision-making advice.</div>
<div class="t" style="left:679.30px;top:1671.74px;font-size:31px;line-height:34.63px;color:#f2f3f6;font-weight:bold;-webkit-text-stroke:2.2px #f2f3f6;">SMM</div>
<svg width="1422" height="1814" viewBox="0 0 1422 1814"><line x1="39.0" y1="161.4" x2="54.0" y2="161.4" stroke="#3f4579" stroke-width="2"/>
<line x1="101.8" y1="161.4" x2="116.8" y2="161.4" stroke="#3fb5cc" stroke-width="2"/>
<line x1="164.7" y1="161.4" x2="179.7" y2="161.4" stroke="#4a6fdc" stroke-width="2"/>
<line x1="227.5" y1="161.4" x2="242.5" y2="161.4" stroke="#8aa4f0" stroke-width="2"/>
<line x1="290.4" y1="161.4" x2="305.4" y2="161.4" stroke="#1f3fb0" stroke-width="2"/>
<line x1="353.2" y1="161.4" x2="368.2" y2="161.4" stroke="#ff1a1a" stroke-width="2"/>
<line x1="93.6" y1="341.5" x2="420.7" y2="341.5" stroke="#eeeef8" stroke-width="1"/>
<line x1="93.6" y1="297.5" x2="420.7" y2="297.5" stroke="#eeeef8" stroke-width="1"/>
<line x1="93.6" y1="253.5" x2="420.7" y2="253.5" stroke="#eeeef8" stroke-width="1"/>
<line x1="93.6" y1="209.5" x2="420.7" y2="209.5" stroke="#eeeef8" stroke-width="1"/>
<line x1="93.6" y1="385.5" x2="420.7" y2="385.5" stroke="#9092a1" stroke-width="1.1"/>
<rect x="201" y="279.9" width="18" height="6.6" fill="#f2f3f6"/>
<line x1="510.0" y1="161.4" x2="525.0" y2="161.4" stroke="#4c5796" stroke-width="2"/>
<line x1="572.8" y1="161.4" x2="587.8" y2="161.4" stroke="#5050e8" stroke-width="2"/>
<line x1="635.7" y1="161.4" x2="650.7" y2="161.4" stroke="#3a6090" stroke-width="2"/>
<line x1="698.5" y1="161.4" x2="713.5" y2="161.4" stroke="#2a3a7a" stroke-width="2"/>
<line x1="761.4" y1="161.4" x2="776.4" y2="161.4" stroke="#3f6fa5" stroke-width="2"/>
<line x1="564.6" y1="341.5" x2="891.7" y2="341.5" stroke="#eeeef8" stroke-width="1"/>
<line x1="564.6" y1="297.5" x2="891.7" y2="297.5" stroke="#eeeef8" stroke-width="1"/>
<line x1="564.6" y1="253.5" x2="891.7" y2="253.5" stroke="#eeeef8" stroke-width="1"/>
<line x1="564.6" y1="209.5" x2="891.7" y2="209.5" stroke="#eeeef8" stroke-width="1"/>
<line x1="564.6" y1="385.5" x2="891.7" y2="385.5" stroke="#9092a1" stroke-width="1.1"/>
<rect x="672" y="279.9" width="18" height="6.6" fill="#f2f3f6"/>
<line x1="980.0" y1="161.4" x2="995.0" y2="161.4" stroke="#4c5796" stroke-width="2"/>
<line x1="1042.8" y1="161.4" x2="1057.8" y2="161.4" stroke="#2f5fe8" stroke-width="2"/>
<line x1="1105.7" y1="161.4" x2="1120.7" y2="161.4" stroke="#226a94" stroke-width="2"/>
<line x1="1168.5" y1="161.4" x2="1183.5" y2="161.4" stroke="#2b3a7e" stroke-width="2"/>
<line x1="1231.4" y1="161.4" x2="1246.4" y2="161.4" stroke="#3f6fa5" stroke-width="2"/>
<line x1="1294.2" y1="161.4" x2="1309.2" y2="161.4" stroke="#ff1a1a" stroke-width="2"/>
<line x1="1003.6" y1="341.5" x2="1361.7" y2="341.5" stroke="#eeeef8" stroke-width="1"/>
<line x1="1003.6" y1="297.5" x2="1361.7" y2="297.5" stroke="#eeeef8" stroke-width="1"/>
<line x1="1003.6" y1="253.5" x2="1361.7" y2="253.5" stroke="#eeeef8" stroke-width="1"/>
<line x1="1003.6" y1="209.5" x2="1361.7" y2="209.5" stroke="#eeeef8" stroke-width="1"/>
<line x1="1003.6" y1="385.5" x2="1361.7" y2="385.5" stroke="#9092a1" stroke-width="1.1"/>
<rect x="1142" y="279.9" width="18" height="6.6" fill="#f2f3f6"/>
<line x1="39.0" y1="529.8" x2="54.0" y2="529.8" stroke="#4c5796" stroke-width="2"/>
<line x1="101.8" y1="529.8" x2="116.8" y2="529.8" stroke="#4e4ee8" stroke-width="2"/>
<line x1="164.7" y1="529.8" x2="179.7" y2="529.8" stroke="#226a94" stroke-width="2"/>
<line x1="227.5" y1="529.8" x2="242.5" y2="529.8" stroke="#2b3a7e" stroke-width="2"/>
<line x1="290.4" y1="529.8" x2="305.4" y2="529.8" stroke="#2a80b0" stroke-width="2"/>
<line x1="353.2" y1="529.8" x2="368.2" y2="529.8" stroke="#ff1a1a" stroke-width="2"/>
<line x1="65.6" y1="695.5" x2="420.7" y2="695.5" stroke="#eeeef8" stroke-width="1"/>
<line x1="65.6" y1="636.5" x2="420.7" y2="636.5" stroke="#eeeef8" stroke-width="1"/>
<line x1="65.6" y1="577.5" x2="420.7" y2="577.5" stroke="#eeeef8" stroke-width="1"/>
<line x1="65.6" y1="753.5" x2="420.7" y2="753.5" stroke="#9092a1" stroke-width="1.1"/>
<rect x="201" y="648.2" width="18" height="6.6" fill="#f2f3f6"/>
<line x1="510.0" y1="529.8" x2="525.0" y2="529.8" stroke="#4c5796" stroke-width="2"/>
<line x1="572.8" y1="529.8" x2="587.8" y2="529.8" stroke="#4e4ee8" stroke-width="2"/>
<line x1="635.7" y1="529.8" x2="650.7" y2="529.8" stroke="#226a94" stroke-width="2"/>
<line x1="698.5" y1="529.8" x2="713.5" y2="529.8" stroke="#2b3a7e" stroke-width="2"/>
<line x1="761.4" y1="529.8" x2="776.4" y2="529.8" stroke="#4a7fb5" stroke-width="2"/>
<line x1="824.2" y1="529.8" x2="839.2" y2="529.8" stroke="#ff1a1a" stroke-width="2"/>
<line x1="533.6" y1="709.5" x2="891.7" y2="709.5" stroke="#eeeef8" stroke-width="1"/>
<line x1="533.6" y1="665.5" x2="891.7" y2="665.5" stroke="#eeeef8" stroke-width="1"/>
<line x1="533.6" y1="621.5" x2="891.7" y2="621.5" stroke="#eeeef8" stroke-width="1"/>
<line x1="533.6" y1="577.5" x2="891.7" y2="577.5" stroke="#eeeef8" stroke-width="1"/>
<line x1="533.6" y1="753.5" x2="891.7" y2="753.5" stroke="#9092a1" stroke-width="1.1"/>
<rect x="672" y="648.2" width="18" height="6.6" fill="#f2f3f6"/>
<line x1="980.0" y1="529.8" x2="995.0" y2="529.8" stroke="#4c5796" stroke-width="2"/>
<line x1="1042.8" y1="529.8" x2="1057.8" y2="529.8" stroke="#4e4ee8" stroke-width="2"/>
<line x1="1105.7" y1="529.8" x2="1120.7" y2="529.8" stroke="#226a94" stroke-width="2"/>
<line x1="1168.5" y1="529.8" x2="1183.5" y2="529.8" stroke="#2b3a7e" stroke-width="2"/>
<line x1="1231.4" y1="529.8" x2="1246.4" y2="529.8" stroke="#3e6a9b" stroke-width="2"/>
<line x1="1294.2" y1="529.8" x2="1309.2" y2="529.8" stroke="#ff1a1a" stroke-width="2"/>
<line x1="996.6" y1="695.5" x2="1361.7" y2="695.5" stroke="#eeeef8" stroke-width="1"/>
<line x1="996.6" y1="636.5" x2="1361.7" y2="636.5" stroke="#eeeef8" stroke-width="1"/>
<line x1="996.6" y1="577.5" x2="1361.7" y2="577.5" stroke="#eeeef8" stroke-width="1"/>
<line x1="996.6" y1="753.5" x2="1361.7" y2="753.5" stroke="#9092a1" stroke-width="1.1"/>
<rect x="1142" y="648.2" width="18" height="6.6" fill="#f2f3f6"/>
<line x1="39.0" y1="898.5" x2="54.0" y2="898.5" stroke="#4c5796" stroke-width="2"/>
<line x1="101.8" y1="898.5" x2="116.8" y2="898.5" stroke="#4e4ee8" stroke-width="2"/>
<line x1="164.7" y1="898.5" x2="179.7" y2="898.5" stroke="#226a94" stroke-width="2"/>
<line x1="227.5" y1="898.5" x2="242.5" y2="898.5" stroke="#2b3a7e" stroke-width="2"/>
<line x1="290.4" y1="898.5" x2="305.4" y2="898.5" stroke="#3e6a9b" stroke-width="2"/>
<line x1="353.2" y1="898.5" x2="368.2" y2="898.5" stroke="#ff1a1a" stroke-width="2"/>
<line x1="55.6" y1="1063.5" x2="420.7" y2="1063.5" stroke="#eeeef8" stroke-width="1"/>
<line x1="55.6" y1="1005.5" x2="420.7" y2="1005.5" stroke="#eeeef8" stroke-width="1"/>
<line x1="55.6" y1="946.5" x2="420.7" y2="946.5" stroke="#eeeef8" stroke-width="1"/>
<line x1="55.6" y1="1122.5" x2="420.7" y2="1122.5" stroke="#9092a1" stroke-width="1.1"/>
<rect x="201" y="1017.0" width="18" height="6.6" fill="#f2f3f6"/>
<line x1="510.0" y1="898.5" x2="525.0" y2="898.5" stroke="#4c5796" stroke-width="2"/>
<line x1="572.8" y1="898.5" x2="587.8" y2="898.5" stroke="#4e4ee8" stroke-width="2"/>
<line x1="635.7" y1="898.5" x2="650.7" y2="898.5" stroke="#226a94" stroke-width="2"/>
<line x1="698.5" y1="898.5" x2="713.5" y2="898.5" stroke="#2b3a7e" stroke-width="2"/>
<line x1="761.4" y1="898.5" x2="776.4" y2="898.5" stroke="#3e6a9b" stroke-width="2"/>
<line x1="824.2" y1="898.5" x2="839.2" y2="898.5" stroke="#ff1a1a" stroke-width="2"/>
<line x1="526.6" y1="1063.5" x2="891.7" y2="1063.5" stroke="#eeeef8" stroke-width="1"/>
<line x1="526.6" y1="1005.5" x2="891.7" y2="1005.5" stroke="#eeeef8" stroke-width="1"/>
<line x1="526.6" y1="946.5" x2="891.7" y2="946.5" stroke="#eeeef8" stroke-width="1"/>
<line x1="526.6" y1="1122.5" x2="891.7" y2="1122.5" stroke="#9092a1" stroke-width="1.1"/>
<rect x="672" y="1017.0" width="18" height="6.6" fill="#f2f3f6"/>
<line x1="980.0" y1="898.5" x2="995.0" y2="898.5" stroke="#4c5796" stroke-width="2"/>
<line x1="1042.8" y1="898.5" x2="1057.8" y2="898.5" stroke="#4e4ee8" stroke-width="2"/>
<line x1="1105.7" y1="898.5" x2="1120.7" y2="898.5" stroke="#226a94" stroke-width="2"/>
<line x1="1168.5" y1="898.5" x2="1183.5" y2="898.5" stroke="#2b3a7e" stroke-width="2"/>
<line x1="1231.4" y1="898.5" x2="1246.4" y2="898.5" stroke="#3e6a9b" stroke-width="2"/>
<line x1="1294.2" y1="898.5" x2="1309.2" y2="898.5" stroke="#ff1a1a" stroke-width="2"/>
<line x1="1006.6" y1="1087.5" x2="1361.7" y2="1087.5" stroke="#eeeef8" stroke-width="1"/>
<line x1="1006.6" y1="1052.5" x2="1361.7" y2="1052.5" stroke="#eeeef8" stroke-width="1"/>
<line x1="1006.6" y1="1016.5" x2="1361.7" y2="1016.5" stroke="#eeeef8" stroke-width="1"/>
<line x1="1006.6" y1="981.5" x2="1361.7" y2="981.5" stroke="#eeeef8" stroke-width="1"/>
<line x1="1006.6" y1="946.5" x2="1361.7" y2="946.5" stroke="#eeeef8" stroke-width="1"/>
<line x1="1006.6" y1="1122.5" x2="1361.7" y2="1122.5" stroke="#9092a1" stroke-width="1.1"/>
<rect x="1142" y="1017.0" width="18" height="6.6" fill="#f2f3f6"/>
<line x1="39.0" y1="1266.9" x2="54.0" y2="1266.9" stroke="#4c5796" stroke-width="2"/>
<line x1="101.8" y1="1266.9" x2="116.8" y2="1266.9" stroke="#4e4ee8" stroke-width="2"/>
<line x1="164.7" y1="1266.9" x2="179.7" y2="1266.9" stroke="#226a94" stroke-width="2"/>
<line x1="227.5" y1="1266.9" x2="242.5" y2="1266.9" stroke="#2b3a7e" stroke-width="2"/>
<line x1="290.4" y1="1266.9" x2="305.4" y2="1266.9" stroke="#3e6a9b" stroke-width="2"/>
<line x1="353.2" y1="1266.9" x2="368.2" y2="1266.9" stroke="#ff1a1a" stroke-width="2"/>
<line x1="62.6" y1="1446.5" x2="420.7" y2="1446.5" stroke="#eeeef8" stroke-width="1"/>
<line x1="62.6" y1="1402.5" x2="420.7" y2="1402.5" stroke="#eeeef8" stroke-width="1"/>
<line x1="62.6" y1="1358.5" x2="420.7" y2="1358.5" stroke="#eeeef8" stroke-width="1"/>
<line x1="62.6" y1="1314.5" x2="420.7" y2="1314.5" stroke="#eeeef8" stroke-width="1"/>
<line x1="62.6" y1="1490.5" x2="420.7" y2="1490.5" stroke="#9092a1" stroke-width="1.1"/>
<rect x="201" y="1385.3" width="18" height="6.6" fill="#f2f3f6"/>
<line x1="510.0" y1="1266.9" x2="525.0" y2="1266.9" stroke="#4c5796" stroke-width="2"/>
<line x1="572.8" y1="1266.9" x2="587.8" y2="1266.9" stroke="#4e4ee8" stroke-width="2"/>
<line x1="635.7" y1="1266.9" x2="650.7" y2="1266.9" stroke="#226a94" stroke-width="2"/>
<line x1="698.5" y1="1266.9" x2="713.5" y2="1266.9" stroke="#2b3a7e" stroke-width="2"/>
<line x1="761.4" y1="1266.9" x2="776.4" y2="1266.9" stroke="#3e6a9b" stroke-width="2"/>
<line x1="824.2" y1="1266.9" x2="839.2" y2="1266.9" stroke="#ff1a1a" stroke-width="2"/>
<line x1="526.6" y1="1432.5" x2="891.7" y2="1432.5" stroke="#eeeef8" stroke-width="1"/>
<line x1="526.6" y1="1373.5" x2="891.7" y2="1373.5" stroke="#eeeef8" stroke-width="1"/>
<line x1="526.6" y1="1314.5" x2="891.7" y2="1314.5" stroke="#eeeef8" stroke-width="1"/>
<line x1="526.6" y1="1490.5" x2="891.7" y2="1490.5" stroke="#9092a1" stroke-width="1.1"/>
<rect x="672" y="1385.3" width="18" height="6.6" fill="#f2f3f6"/>
<line x1="980.0" y1="1266.9" x2="995.0" y2="1266.9" stroke="#4c5796" stroke-width="2"/>
<line x1="1042.8" y1="1266.9" x2="1057.8" y2="1266.9" stroke="#4e4ee8" stroke-width="2"/>
<line x1="1105.7" y1="1266.9" x2="1120.7" y2="1266.9" stroke="#226a94" stroke-width="2"/>
<line x1="1168.5" y1="1266.9" x2="1183.5" y2="1266.9" stroke="#2b3a7e" stroke-width="2"/>
<line x1="1231.4" y1="1266.9" x2="1246.4" y2="1266.9" stroke="#3e6a9b" stroke-width="2"/>
<line x1="1294.2" y1="1266.9" x2="1309.2" y2="1266.9" stroke="#ff1a1a" stroke-width="2"/>
<line x1="1013.6" y1="1446.5" x2="1361.7" y2="1446.5" stroke="#eeeef8" stroke-width="1"/>
<line x1="1013.6" y1="1402.5" x2="1361.7" y2="1402.5" stroke="#eeeef8" stroke-width="1"/>
<line x1="1013.6" y1="1358.5" x2="1361.7" y2="1358.5" stroke="#eeeef8" stroke-width="1"/>
<line x1="1013.6" y1="1314.5" x2="1361.7" y2="1314.5" stroke="#eeeef8" stroke-width="1"/>
<line x1="1013.6" y1="1490.5" x2="1361.7" y2="1490.5" stroke="#9092a1" stroke-width="1.1"/>
<rect x="1142" y="1385.3" width="18" height="6.6" fill="#f2f3f6"/>
<polyline fill="none" stroke="#3f4579" stroke-width="2" stroke-linejoin="bevel" points="107.2,337.1 134.5,351.3 161.7,348.9 189.0,351.0 216.3,341.5 243.5,258.8 270.8,228.4 298.0,265.9 325.3,250.3 352.6,286.0 379.8,326.5 407.1,337.7"/>
<polyline fill="none" stroke="#3fb5cc" stroke-width="2" stroke-linejoin="bevel" points="107.2,356.0 134.5,354.8 161.7,323.5 189.0,340.0 216.3,351.0 243.5,357.5 270.8,360.7 298.0,368.7 325.3,364.9 352.6,356.9 379.8,328.8 407.1,296.9"/>
<polyline fill="none" stroke="#4a6fdc" stroke-width="2" stroke-linejoin="bevel" points="107.2,346.8 134.5,353.3 161.7,343.0 189.0,353.3 216.3,344.5 243.5,316.1 270.8,349.5 298.0,333.8 325.3,318.5 352.6,363.4 379.8,315.5 407.1,320.0"/>
<polyline fill="none" stroke="#8aa4f0" stroke-width="2" stroke-linejoin="bevel" points="107.2,351.0 134.5,372.5 161.7,367.2 189.0,366.6 216.3,351.0 243.5,349.5 270.8,346.5 298.0,329.7 325.3,327.9 352.6,326.2 379.8,306.1 407.1,334.7"/>
<polyline fill="none" stroke="#1f3fb0" stroke-width="2" stroke-linejoin="bevel" points="107.2,315.5 134.5,361.9 161.7,342.1 189.0,348.0 216.3,330.0 243.5,348.0 270.8,351.6 298.0,363.1 325.3,328.8 352.6,314.6 379.8,314.1 407.1,309.6"/>
<polyline fill="none" stroke="#ff1a1a" stroke-width="4" stroke-linejoin="bevel" points="107.2,356.0 134.5,354.8 161.7,337.4 189.0,362.8 216.3,361.3 243.5,340.9 270.8,342.4 298.0,356.0 325.3,326.2 352.6,348.9 379.8,353.3"/>
<polyline fill="none" stroke="#ff1a1a" stroke-width="4" stroke-linejoin="bevel" points="578.2,369.0 605.5,355.4 632.7,324.4 660.0,316.4 687.3,354.2 714.5,314.1 741.8,281.0 769.0,352.4 796.3,361.3 823.6,325.9 850.8,257.9"/>
<polyline fill="none" stroke="#4c5796" stroke-width="2" stroke-linejoin="bevel" points="578.2,362.8 605.5,358.4 632.7,357.5 660.0,370.2 687.3,377.0 714.5,375.5 741.8,375.5 769.0,374.6 796.3,370.2 823.6,368.1 850.8,370.2 878.1,376.1"/>
<polyline fill="none" stroke="#5050e8" stroke-width="2" stroke-linejoin="bevel" points="578.2,366.6 605.5,368.7 632.7,370.8 660.0,364.3 687.3,362.8 714.5,362.2 741.8,361.3 769.0,341.2 796.3,368.7 823.6,374.6 850.8,368.7 878.1,371.6"/>
<polyline fill="none" stroke="#3a6090" stroke-width="2" stroke-linejoin="bevel" points="578.2,377.6 605.5,375.5 632.7,343.6 660.0,331.2 687.3,358.9 714.5,375.5 741.8,373.1 769.0,376.1 796.3,371.6 823.6,374.6 850.8,373.7 878.1,370.2"/>
<polyline fill="none" stroke="#2a3a7a" stroke-width="2" stroke-linejoin="bevel" points="578.2,373.1 605.5,348.6 632.7,343.6 660.0,361.3 687.3,369.3 714.5,365.7 741.8,360.7 769.0,366.6 796.3,369.3 823.6,370.2 850.8,368.7 878.1,374.6"/>
<polyline fill="none" stroke="#3f6fa5" stroke-width="2" stroke-linejoin="bevel" points="578.2,376.7 605.5,374.6 632.7,364.9 660.0,362.2 687.3,319.1 714.5,246.1 741.8,322.9 769.0,357.8 796.3,370.8 823.6,376.1 850.8,376.1 878.1,370.8"/>
<polyline fill="none" stroke="#4c5796" stroke-width="2" stroke-linejoin="bevel" points="1018.5,366.6 1048.4,369.0 1078.2,364.6 1108.0,363.4 1137.9,369.3 1167.7,348.6 1197.6,338.9 1227.4,316.4 1257.3,330.9 1287.1,340.3 1316.9,336.2 1346.8,350.1"/>
<polyline fill="none" stroke="#2f5fe8" stroke-width="2" stroke-linejoin="bevel" points="1018.5,346.8 1048.4,361.9 1078.2,347.4 1108.0,343.0 1137.9,343.6 1167.7,351.3 1197.6,345.7 1227.4,342.7 1257.3,359.5 1287.1,353.9 1316.9,334.4 1346.8,333.0"/>
<polyline fill="none" stroke="#226a94" stroke-width="2" stroke-linejoin="bevel" points="1018.5,345.7 1048.4,336.8 1078.2,327.9 1108.0,331.8 1137.9,320.5 1167.7,337.1 1197.6,332.1 1227.4,345.1 1257.3,326.5 1287.1,324.1 1316.9,304.3 1346.8,309.0"/>
<polyline fill="none" stroke="#2b3a7e" stroke-width="2" stroke-linejoin="bevel" points="1018.5,310.5 1048.4,350.4 1078.2,339.2 1108.0,340.9 1137.9,311.7 1167.7,335.6 1197.6,319.4 1227.4,299.9 1257.3,322.9 1287.1,304.0 1316.9,299.9 1346.8,318.5"/>
<polyline fill="none" stroke="#3f6fa5" stroke-width="2" stroke-linejoin="bevel" points="1018.5,284.5 1048.4,308.1 1078.2,301.6 1108.0,282.4 1137.9,270.3 1167.7,254.7 1197.6,284.8 1227.4,301.6 1257.3,278.6 1287.1,257.0 1316.9,274.8 1346.8,241.7"/>
<polyline fill="none" stroke="#ff1a1a" stroke-width="4" stroke-linejoin="bevel" points="1018.5,265.9 1048.4,304.3 1078.2,287.5 1108.0,292.2 1137.9,310.5 1167.7,286.9 1197.6,261.8 1227.4,280.7 1257.3,278.0 1287.1,294.3 1316.9,263.8"/>
<polyline fill="none" stroke="#4c5796" stroke-width="2" stroke-linejoin="bevel" points="80.4,681.5 110.0,726.1 139.6,711.6 169.2,730.5 198.8,739.1 228.4,716.6 257.9,679.7 287.5,607.3 317.1,622.7 346.7,622.4 376.3,640.7 405.9,597.0"/>
<polyline fill="none" stroke="#4e4ee8" stroke-width="2" stroke-linejoin="bevel" points="80.4,714.2 110.0,709.5 139.6,601.7 169.2,676.1 198.8,705.7 228.4,677.6 257.9,663.4 287.5,716.6 317.1,697.4 346.7,701.2 376.3,701.2 405.9,689.7"/>
<polyline fill="none" stroke="#226a94" stroke-width="2" stroke-linejoin="bevel" points="80.4,693.0 110.0,673.2 139.6,666.1 169.2,663.4 198.8,685.0 228.4,682.6 257.9,664.3 287.5,653.1 317.1,656.9 346.7,688.0 376.3,702.7 405.9,663.7"/>
<polyline fill="none" stroke="#2b3a7e" stroke-width="2" stroke-linejoin="bevel" points="80.4,651.9 110.0,703.3 139.6,663.4 169.2,668.8 198.8,706.6 228.4,691.8 257.9,667.3 287.5,675.6 317.1,696.8 346.7,703.3 376.3,715.4 405.9,670.2"/>
<polyline fill="none" stroke="#2a80b0" stroke-width="2" stroke-linejoin="bevel" points="80.4,674.1 110.0,703.3 139.6,665.8 169.2,685.9 198.8,688.3 228.4,656.9 257.9,724.9 287.5,713.7 317.1,703.6 346.7,673.2 376.3,710.7 405.9,676.7"/>
<polyline fill="none" stroke="#ff1a1a" stroke-width="4" stroke-linejoin="bevel" points="80.4,708.0 110.0,691.5 139.6,685.9 169.2,649.0 198.8,716.0 228.4,670.8 257.9,651.9 287.5,648.4 317.1,640.4 346.7,667.3 376.3,633.9"/>
<polyline fill="none" stroke="#4c5796" stroke-width="2" stroke-linejoin="bevel" points="548.5,656.6 578.4,669.9 608.2,669.6 638.0,677.6 667.9,680.9 697.7,607.6 727.6,607.3 757.4,667.9 787.3,652.8 817.1,671.4 846.9,669.6 876.8,685.0"/>
<polyline fill="none" stroke="#4e4ee8" stroke-width="2" stroke-linejoin="bevel" points="548.5,685.0 578.4,680.0 608.2,684.1 638.0,691.5 667.9,708.6 697.7,698.0 727.6,713.9 757.4,708.9 787.3,714.5 817.1,711.6 846.9,701.2 876.8,670.8"/>
<polyline fill="none" stroke="#226a94" stroke-width="2" stroke-linejoin="bevel" points="548.5,698.6 578.4,706.6 608.2,695.6 638.0,687.4 667.9,698.0 697.7,680.3 727.6,689.7 757.4,685.6 787.3,658.7 817.1,696.2 846.9,664.9 876.8,669.1"/>
<polyline fill="none" stroke="#2b3a7e" stroke-width="2" stroke-linejoin="bevel" points="548.5,688.8 578.4,693.0 608.2,710.4 638.0,714.8 667.9,710.1 697.7,702.7 727.6,706.3 757.4,693.6 787.3,706.9 817.1,694.8 846.9,678.5 876.8,669.6"/>
<polyline fill="none" stroke="#4a7fb5" stroke-width="2" stroke-linejoin="bevel" points="548.5,680.0 578.4,701.0 608.2,700.1 638.0,705.1 667.9,688.3 697.7,729.9 727.6,727.8 757.4,733.1 787.3,726.4 817.1,711.0 846.9,710.7 876.8,713.9"/>
<polyline fill="none" stroke="#ff1a1a" stroke-width="4" stroke-linejoin="bevel" points="548.5,719.9 578.4,724.9 608.2,718.4 638.0,734.3 667.9,735.5 697.7,739.9 727.6,738.8 757.4,739.1 787.3,726.1 817.1,727.2 846.9,737.3"/>
<polyline fill="none" stroke="#4c5796" stroke-width="2" stroke-linejoin="bevel" points="1011.8,713.7 1042.2,643.1 1072.7,682.1 1103.1,727.8 1133.5,670.2 1163.9,589.0 1194.4,579.3 1224.8,634.5 1255.2,633.3 1285.6,663.1 1316.1,651.9 1346.5,656.6"/>
<polyline fill="none" stroke="#4e4ee8" stroke-width="2" stroke-linejoin="bevel" points="1011.8,662.0 1042.2,713.7 1072.7,653.7 1103.1,680.6 1133.5,664.9 1163.9,692.4 1194.4,738.8 1224.8,677.6 1255.2,693.9 1285.6,689.7 1316.1,698.6 1346.5,617.1"/>
<polyline fill="none" stroke="#226a94" stroke-width="2" stroke-linejoin="bevel" points="1011.8,713.1 1042.2,625.3 1072.7,661.7 1103.1,676.4 1133.5,707.7 1163.9,703.0 1194.4,708.9 1224.8,648.7 1255.2,666.4 1285.6,687.4 1316.1,640.7 1346.5,674.7"/>
<polyline fill="none" stroke="#2b3a7e" stroke-width="2" stroke-linejoin="bevel" points="1011.8,618.3 1042.2,681.5 1072.7,710.4 1103.1,685.3 1133.5,705.4 1163.9,685.6 1194.4,711.6 1224.8,689.4 1255.2,644.8 1285.6,706.6 1316.1,687.4 1346.5,703.3"/>
<polyline fill="none" stroke="#3e6a9b" stroke-width="2" stroke-linejoin="bevel" points="1011.8,700.1 1042.2,683.2 1072.7,681.8 1103.1,708.3 1133.5,687.1 1163.9,719.0 1194.4,711.0 1224.8,711.9 1255.2,691.2 1285.6,717.8 1316.1,684.1 1346.5,712.8"/>
<polyline fill="none" stroke="#ff1a1a" stroke-width="4" stroke-linejoin="bevel" points="1011.8,719.0 1042.2,727.8 1072.7,702.4 1103.1,708.0 1133.5,727.2 1163.9,752.9 1194.4,717.8 1224.8,752.9 1255.2,714.2 1285.6,729.9 1316.1,734.3"/>
<polyline fill="none" stroke="#4c5796" stroke-width="2" stroke-linejoin="bevel" points="70.8,1099.8 101.2,1064.9 131.7,1095.4 162.1,1059.3 192.5,1031.3 222.9,988.4 253.4,1015.6 283.8,1028.9 314.2,1028.9 344.6,1062.0 375.1,1046.9 405.5,1046.6"/>
<polyline fill="none" stroke="#4e4ee8" stroke-width="2" stroke-linejoin="bevel" points="70.8,1036.3 101.2,1086.5 131.7,1002.9 162.1,1045.1 192.5,1028.0 222.9,1010.3 253.4,1031.9 283.8,999.4 314.2,988.4 344.6,994.6 375.1,976.9 405.5,1021.5"/>
<polyline fill="none" stroke="#226a94" stroke-width="2" stroke-linejoin="bevel" points="70.8,1010.0 101.2,1051.1 131.7,1018.0 162.1,1088.6 192.5,995.5 222.9,1006.7 253.4,993.8 283.8,961.3 314.2,1037.2 344.6,1049.6 375.1,1015.6 405.5,1031.0"/>
<polyline fill="none" stroke="#2b3a7e" stroke-width="2" stroke-linejoin="bevel" points="70.8,1037.8 101.2,1042.2 131.7,1080.9 162.1,1076.7 192.5,1054.6 222.9,1003.5 253.4,1032.4 283.8,1015.6 314.2,1010.3 344.6,1049.9 375.1,1053.1 405.5,1063.2"/>
<polyline fill="none" stroke="#3e6a9b" stroke-width="2" stroke-linejoin="bevel" points="70.8,1059.9 101.2,1087.1 131.7,1104.2 162.1,1106.3 192.5,1097.4 222.9,1088.6 253.4,1073.8 283.8,1028.0 314.2,1026.5 344.6,1035.7 375.1,1035.1 405.5,1040.7"/>
<polyline fill="none" stroke="#ff1a1a" stroke-width="4" stroke-linejoin="bevel" points="70.8,1033.3 101.2,1080.6 131.7,1104.2 162.1,1101.9 192.5,1080.0 222.9,1054.0 253.4,1089.4 283.8,1062.0 314.2,1015.0 344.6,1067.9 375.1,1057.0"/>
<polyline fill="none" stroke="#4c5796" stroke-width="2" stroke-linejoin="bevel" points="541.8,1111.0 572.2,1087.4 602.7,1085.3 633.1,1062.3 663.5,1041.6 693.9,990.5 724.4,982.2 754.8,1012.7 785.2,971.3 815.6,1061.4 846.1,1074.7 876.5,1056.1"/>
<polyline fill="none" stroke="#4e4ee8" stroke-width="2" stroke-linejoin="bevel" points="541.8,1089.7 572.2,1075.9 602.7,1060.8 633.1,1062.6 663.5,1083.5 693.9,1077.6 724.4,1088.9 754.8,1082.1 785.2,1071.7 815.6,1066.7 846.1,1071.7 876.5,1071.1"/>
<polyline fill="none" stroke="#226a94" stroke-width="2" stroke-linejoin="bevel" points="541.8,1066.4 572.2,1095.4 602.7,1101.9 633.1,1092.7 663.5,1091.8 693.9,1073.8 724.4,1059.9 754.8,1035.1 785.2,1014.4 815.6,1064.3 846.1,1079.1 876.5,1079.1"/>
<polyline fill="none" stroke="#2b3a7e" stroke-width="2" stroke-linejoin="bevel" points="541.8,1098.6 572.2,1075.9 602.7,1068.2 633.1,1070.5 663.5,1093.0 693.9,1073.2 724.4,1082.1 754.8,1072.0 785.2,1068.2 815.6,1080.0 846.1,1081.5 876.5,1080.0"/>
<polyline fill="none" stroke="#3e6a9b" stroke-width="2" stroke-linejoin="bevel" points="541.8,1079.1 572.2,1099.8 602.7,1060.5 633.1,1071.7 663.5,1061.7 693.9,1051.3 724.4,1073.2 754.8,1082.1 785.2,1056.7 815.6,1061.7 846.1,1057.3 876.5,1055.8"/>
<polyline fill="none" stroke="#ff1a1a" stroke-width="4" stroke-linejoin="bevel" points="541.8,1078.5 572.2,1077.6 602.7,1079.7 633.1,1074.4 663.5,1082.1 693.9,1081.5 724.4,1093.9 754.8,1099.8 785.2,1090.0 815.6,1101.6 846.1,1101.0"/>
<polyline fill="none" stroke="#4c5796" stroke-width="2" stroke-linejoin="bevel" points="1021.4,1107.2 1051.0,1056.4 1080.6,1093.0 1110.2,1051.3 1139.8,1028.6 1169.4,975.4 1198.9,1029.2 1228.5,1019.7 1258.1,1028.6 1287.7,1059.9 1317.3,1111.3 1346.9,1107.2"/>
<polyline fill="none" stroke="#4e4ee8" stroke-width="2" stroke-linejoin="bevel" points="1021.4,1113.1 1051.0,1114.6 1080.6,1093.9 1110.2,1093.9 1139.8,1103.6 1169.4,1100.7 1198.9,1098.3 1228.5,1103.3 1258.1,1074.1 1287.7,1077.6 1317.3,1070.0 1346.9,1093.9"/>
<polyline fill="none" stroke="#226a94" stroke-width="2" stroke-linejoin="bevel" points="1021.4,1095.4 1051.0,1112.5 1080.6,1107.8 1110.2,1110.1 1139.8,1118.1 1169.4,1113.7 1198.9,1107.8 1228.5,1090.9 1258.1,1085.6 1287.7,1118.1 1317.3,1115.1 1346.9,1102.7"/>
<polyline fill="none" stroke="#2b3a7e" stroke-width="2" stroke-linejoin="bevel" points="1021.4,1114.0 1051.0,1116.6 1080.6,1118.1 1110.2,1113.7 1139.8,1116.6 1169.4,1119.3 1198.9,1118.7 1228.5,1118.4 1258.1,1111.3 1287.7,1111.0 1317.3,1119.0 1346.9,1085.6"/>
<polyline fill="none" stroke="#3e6a9b" stroke-width="2" stroke-linejoin="bevel" points="1021.4,1105.7 1051.0,1095.6 1080.6,1099.2 1110.2,1105.1 1139.8,1108.1 1169.4,1103.6 1198.9,1104.2 1228.5,1100.1 1258.1,1103.6 1287.7,1094.2 1317.3,1069.7 1346.9,1083.5"/>
<polyline fill="none" stroke="#ff1a1a" stroke-width="4" stroke-linejoin="bevel" points="1021.4,1106.6 1051.0,1104.2 1080.6,1116.9 1110.2,1113.1 1139.8,1088.9 1169.4,1092.4 1198.9,1106.3 1228.5,1072.6 1258.1,1081.8 1287.7,1089.2 1317.3,1070.5"/>
<polyline fill="none" stroke="#4c5796" stroke-width="2" stroke-linejoin="bevel" points="77.5,1470.7 107.4,1454.5 137.2,1458.3 167.0,1463.9 196.9,1471.3 226.7,1460.4 256.6,1449.2 286.4,1438.8 316.3,1392.5 346.1,1386.6 375.9,1432.3 405.8,1437.4"/>
<polyline fill="none" stroke="#4e4ee8" stroke-width="2" stroke-linejoin="bevel" points="77.5,1465.4 107.4,1445.9 137.2,1443.3 167.0,1444.2 196.9,1451.5 226.7,1456.6 256.6,1453.0 286.4,1453.6 316.3,1465.1 346.1,1428.5 375.9,1441.5 405.8,1355.0"/>
<polyline fill="none" stroke="#226a94" stroke-width="2" stroke-linejoin="bevel" points="77.5,1425.8 107.4,1456.3 137.2,1475.8 167.0,1465.7 196.9,1444.2 226.7,1450.9 256.6,1459.8 286.4,1441.8 316.3,1431.5 346.1,1476.1 375.9,1429.4 405.8,1453.6"/>
<polyline fill="none" stroke="#2b3a7e" stroke-width="2" stroke-linejoin="bevel" points="77.5,1470.4 107.4,1473.1 137.2,1463.9 167.0,1468.4 196.9,1439.1 226.7,1424.1 256.6,1453.6 286.4,1447.1 316.3,1391.6 346.1,1422.0 375.9,1415.2 405.8,1472.8"/>
<polyline fill="none" stroke="#3e6a9b" stroke-width="2" stroke-linejoin="bevel" points="77.5,1456.9 107.4,1469.3 137.2,1448.9 167.0,1472.8 196.9,1470.7 226.7,1481.4 256.6,1452.4 286.4,1476.4 316.3,1438.2 346.1,1461.0 375.9,1450.7 405.8,1463.4"/>
<polyline fill="none" stroke="#ff1a1a" stroke-width="4" stroke-linejoin="bevel" points="77.5,1478.1 107.4,1419.6 137.2,1390.4 167.0,1461.0 196.9,1441.2 226.7,1423.8 256.6,1449.5 286.4,1456.9 316.3,1422.9 346.1,1426.1 375.9,1472.5"/>
<polyline fill="none" stroke="#4c5796" stroke-width="2" stroke-linejoin="bevel" points="541.8,1480.5 572.2,1488.5 602.7,1489.9 633.1,1488.5 663.5,1440.3 693.9,1451.2 724.4,1435.6 754.8,1466.9 785.2,1489.1 815.6,1489.9 846.1,1489.9 876.5,1476.1"/>
<polyline fill="none" stroke="#4e4ee8" stroke-width="2" stroke-linejoin="bevel" points="541.8,1477.5 572.2,1483.4 602.7,1481.1 633.1,1480.8 663.5,1489.9 693.9,1489.9 724.4,1489.9 754.8,1489.9 785.2,1457.4 815.6,1450.7 846.1,1460.7 876.5,1487.0"/>
<polyline fill="none" stroke="#226a94" stroke-width="2" stroke-linejoin="bevel" points="541.8,1487.6 572.2,1489.3 602.7,1489.9 633.1,1489.9 663.5,1469.3 693.9,1345.8 724.4,1462.5 754.8,1473.7 785.2,1484.9 815.6,1488.5 846.1,1483.1 876.5,1485.8"/>
<polyline fill="none" stroke="#2b3a7e" stroke-width="2" stroke-linejoin="bevel" points="541.8,1488.5 572.2,1487.6 602.7,1489.1 633.1,1438.0 663.5,1454.5 693.9,1440.9 724.4,1420.5 754.8,1487.0 785.2,1489.9 815.6,1475.2 846.1,1425.5 876.5,1465.4"/>
<polyline fill="none" stroke="#3e6a9b" stroke-width="2" stroke-linejoin="bevel" points="541.8,1489.3 572.2,1489.9 602.7,1489.9 633.1,1489.9 663.5,1489.9 693.9,1489.9 724.4,1489.3 754.8,1487.0 785.2,1439.7 815.6,1406.4 846.1,1465.4 876.5,1467.8"/>
<polyline fill="none" stroke="#ff1a1a" stroke-width="4" stroke-linejoin="bevel" points="541.8,1484.6 572.2,1481.7 602.7,1478.1 633.1,1431.5 663.5,1404.9 693.9,1379.8 724.4,1451.5 754.8,1484.9 785.2,1466.9 815.6,1486.1 846.1,1478.4"/>
<polyline fill="none" stroke="#4c5796" stroke-width="2" stroke-linejoin="bevel" points="1028.1,1489.9 1057.1,1489.9 1086.1,1489.9 1115.1,1489.9 1144.1,1489.9 1173.1,1328.8 1202.2,1460.6 1231.2,1489.9 1260.2,1489.9 1289.2,1475.3 1318.2,1489.9 1347.2,1489.9"/>
<polyline fill="none" stroke="#4e4ee8" stroke-width="2" stroke-linejoin="bevel" points="1028.1,1489.9 1057.1,1489.9 1086.1,1489.9 1115.1,1489.9 1144.1,1489.9 1173.1,1489.9 1202.2,1489.9 1231.2,1489.9 1260.2,1431.4 1289.2,1475.3 1318.2,1475.3 1347.2,1489.9"/>
<polyline fill="none" stroke="#226a94" stroke-width="2" stroke-linejoin="bevel" points="1028.1,1489.9 1057.1,1489.9 1086.1,1489.9 1115.1,1489.9 1144.1,1489.9 1173.1,1489.9 1202.2,1489.9 1231.2,1446.0 1260.2,1489.9 1289.2,1489.9 1318.2,1489.9 1347.2,1489.9"/>
<polyline fill="none" stroke="#2b3a7e" stroke-width="2" stroke-linejoin="bevel" points="1028.1,1489.9 1057.1,1489.9 1086.1,1489.9 1115.1,1416.7 1144.1,1489.9 1173.1,1489.9 1202.2,1489.9 1231.2,1489.9 1260.2,1489.9 1289.2,1489.9 1318.2,1489.9 1347.2,1489.9"/>
<polyline fill="none" stroke="#3e6a9b" stroke-width="2" stroke-linejoin="bevel" points="1028.1,1489.9 1057.1,1489.9 1086.1,1489.9 1115.1,1489.9 1144.1,1489.9 1173.1,1489.9 1202.2,1489.9 1231.2,1489.9 1260.2,1416.7 1289.2,1489.9 1318.2,1489.9 1347.2,1489.9"/>
<polyline fill="none" stroke="#ff1a1a" stroke-width="4" stroke-linejoin="bevel" points="1028.1,1489.9 1057.1,1489.9 1086.1,1489.9 1115.1,1489.9 1144.1,1489.9 1173.1,1489.9 1202.2,1489.9 1231.2,1489.9 1260.2,1489.9 1289.2,1489.9 1318.2,1489.9"/>
<rect x="671" y="1692.8" width="18" height="6.6" fill="#f2f3f6"/><line x1="687.5" y1="209" x2="687.5" y2="385" stroke="#c4c6d2" stroke-width="1" stroke-dasharray="4 3"/>
<line x1="566" y1="331.5" x2="892" y2="331.5" stroke="#8e9097" stroke-width="1" stroke-dasharray="4 3"/>
<rect x="497.2" y="320.2" width="68.7" height="21.4" rx="3" fill="#6e7079"/>
<rect x="668.4" y="388.2" width="38.5" height="21.4" rx="3" fill="#6e7079"/>
<rect x="780.5" y="81.5" width="27" height="27" rx="3" fill="#fff" stroke="#2f5bb8" stroke-width="1"/>
<rect x="843.5" y="81.5" width="27" height="27" fill="#fff" stroke="#d9d9d9" stroke-width="1"/>
<path d="M870.5 81.5H897.5V108.5H870.5" fill="#fff" stroke="#d9d9d9" stroke-width="1"/>
<path d="M843.5 81.5H819a2.5 2.5 0 0 0-2.5 2.5v22a2.5 2.5 0 0 0 2.5 2.5H843.5z" fill="#fff" stroke="#2f5bb8" stroke-width="1"/>
<g fill="none" stroke="#2f5bb8" stroke-width="0.95" stroke-linecap="round"><ellipse cx="793.9" cy="91.4" rx="4.6" ry="2.1"/><path d="M789.3 91.4v7.4c0 1 1.6 1.9 4 2.1"/><path d="M798.5 91.4v2.3"/><path d="M789.3 95.2c0.3 0.8 1.8 1.4 4 1.6"/><path d="M789.3 97.3c0.3 0.8 1.8 1.4 4 1.6"/><path d="M797.3 100.6v-4.4" stroke-width="1.4"/></g><path d="M794.7 98.1l2.6-2.9 2.6 2.9z" fill="#2f5bb8" stroke="#2f5bb8" stroke-width="0.6" stroke-linejoin="round"/>
<g fill="none" stroke="#2f5bb8" stroke-width="1.1" stroke-linecap="round" stroke-linejoin="round"><path d="M824.6 90.3v10.9"/><path d="M826.3 97.7l2.7-3 2.3 2.5 4.2-4.2"/></g><rect x="824.1" y="100.2" width="11.9" height="1.6" fill="#7f9ad6"/>
<g fill="#6b7183"><rect x="851" y="90.2" width="1.1" height="11.3"/><rect x="856" y="94" width="1.1" height="5"/><rect x="858.2" y="95.2" width="1.1" height="3.8"/></g><g fill="#b3b7c4"><rect x="851" y="100" width="11.9" height="1.6"/><rect x="853.3" y="96.8" width="1.3" height="2.2"/><rect x="860.6" y="92.7" width="1.3" height="6.3"/></g>
<rect x="878.1" y="90.2" width="1.1" height="11.3" fill="#6b7183"/><rect x="878.1" y="100" width="11.9" height="1.6" fill="#b3b7c4"/><path d="M880.2 98.9V96.8L883.4 93.7 885.3 95.6 888.8 91.8V98.9z" fill="#6b7183"/>
<g fill="none" stroke="#7a7f91" stroke-width="1.2" stroke-linecap="square"><path d="M913 92L909 88M909 91.5V88H912.5"/><path d="M919 92L923 88M923 91.5V88H919.5"/><path d="M913 98L909 102M909 98.5V102H912.5"/><path d="M919 98L923 102M923 98.5V102H919.5"/></g></svg>
<div class="t" style="left:504.00px;top:324.07px;font-size:12.3px;line-height:13.74px;color:#fff;letter-spacing:0.035px;">61,363.64</div>
<div class="t" style="left:675.30px;top:392.07px;font-size:12.3px;line-height:13.74px;color:#fff;letter-spacing:0.633px;">May</div>
<div style="position:absolute;left:800px;top:144px;width:121px;height:169px;background:#fff;border-radius:4px;box-shadow:1px 2px 10px rgba(0,0,0,.2)"></div>
<div class="t" style="left:811.50px;top:158.63px;font-size:14px;line-height:15.64px;color:#666;letter-spacing:0.523px;">May</div>
<div style="position:absolute;left:811px;top:181.8px;width:10px;height:10px;border-radius:50%;background:#4e5a9a"></div>
<div class="t" style="left:825.30px;top:178.93px;font-size:15px;line-height:16.75px;color:#666;letter-spacing:-0.435px;">2020: 9,103</div>
<div style="position:absolute;left:811px;top:202.9px;width:10px;height:10px;border-radius:50%;background:#4b4be6"></div>
<div class="t" style="left:825.30px;top:199.98px;font-size:15px;line-height:16.75px;color:#666;letter-spacing:-0.418px;">2021: 25,255</div>
<div style="position:absolute;left:811px;top:223.9px;width:10px;height:10px;border-radius:50%;background:#3a5f92"></div>
<div class="t" style="left:825.30px;top:221.03px;font-size:15px;line-height:16.75px;color:#666;letter-spacing:-0.399px;">2022: 29,384</div>
<div style="position:absolute;left:811px;top:245.0px;width:10px;height:10px;border-radius:50%;background:#2c3f80"></div>
<div class="t" style="left:825.30px;top:242.08px;font-size:15px;line-height:16.75px;color:#666;letter-spacing:-0.399px;">2023: 17,879</div>
<div style="position:absolute;left:811px;top:266.0px;width:10px;height:10px;border-radius:50%;background:#4270a6"></div>
<div class="t" style="left:825.30px;top:263.12px;font-size:15px;line-height:16.75px;color:#666;letter-spacing:-0.399px;">2024: 73,829</div>
<div style="position:absolute;left:811px;top:287.1px;width:10px;height:10px;border-radius:50%;background:#ff1010"></div>
<div class="t" style="left:825.30px;top:284.18px;font-size:15px;line-height:16.75px;color:#666;letter-spacing:-0.454px;">2025: 33,737</div></body></html>
